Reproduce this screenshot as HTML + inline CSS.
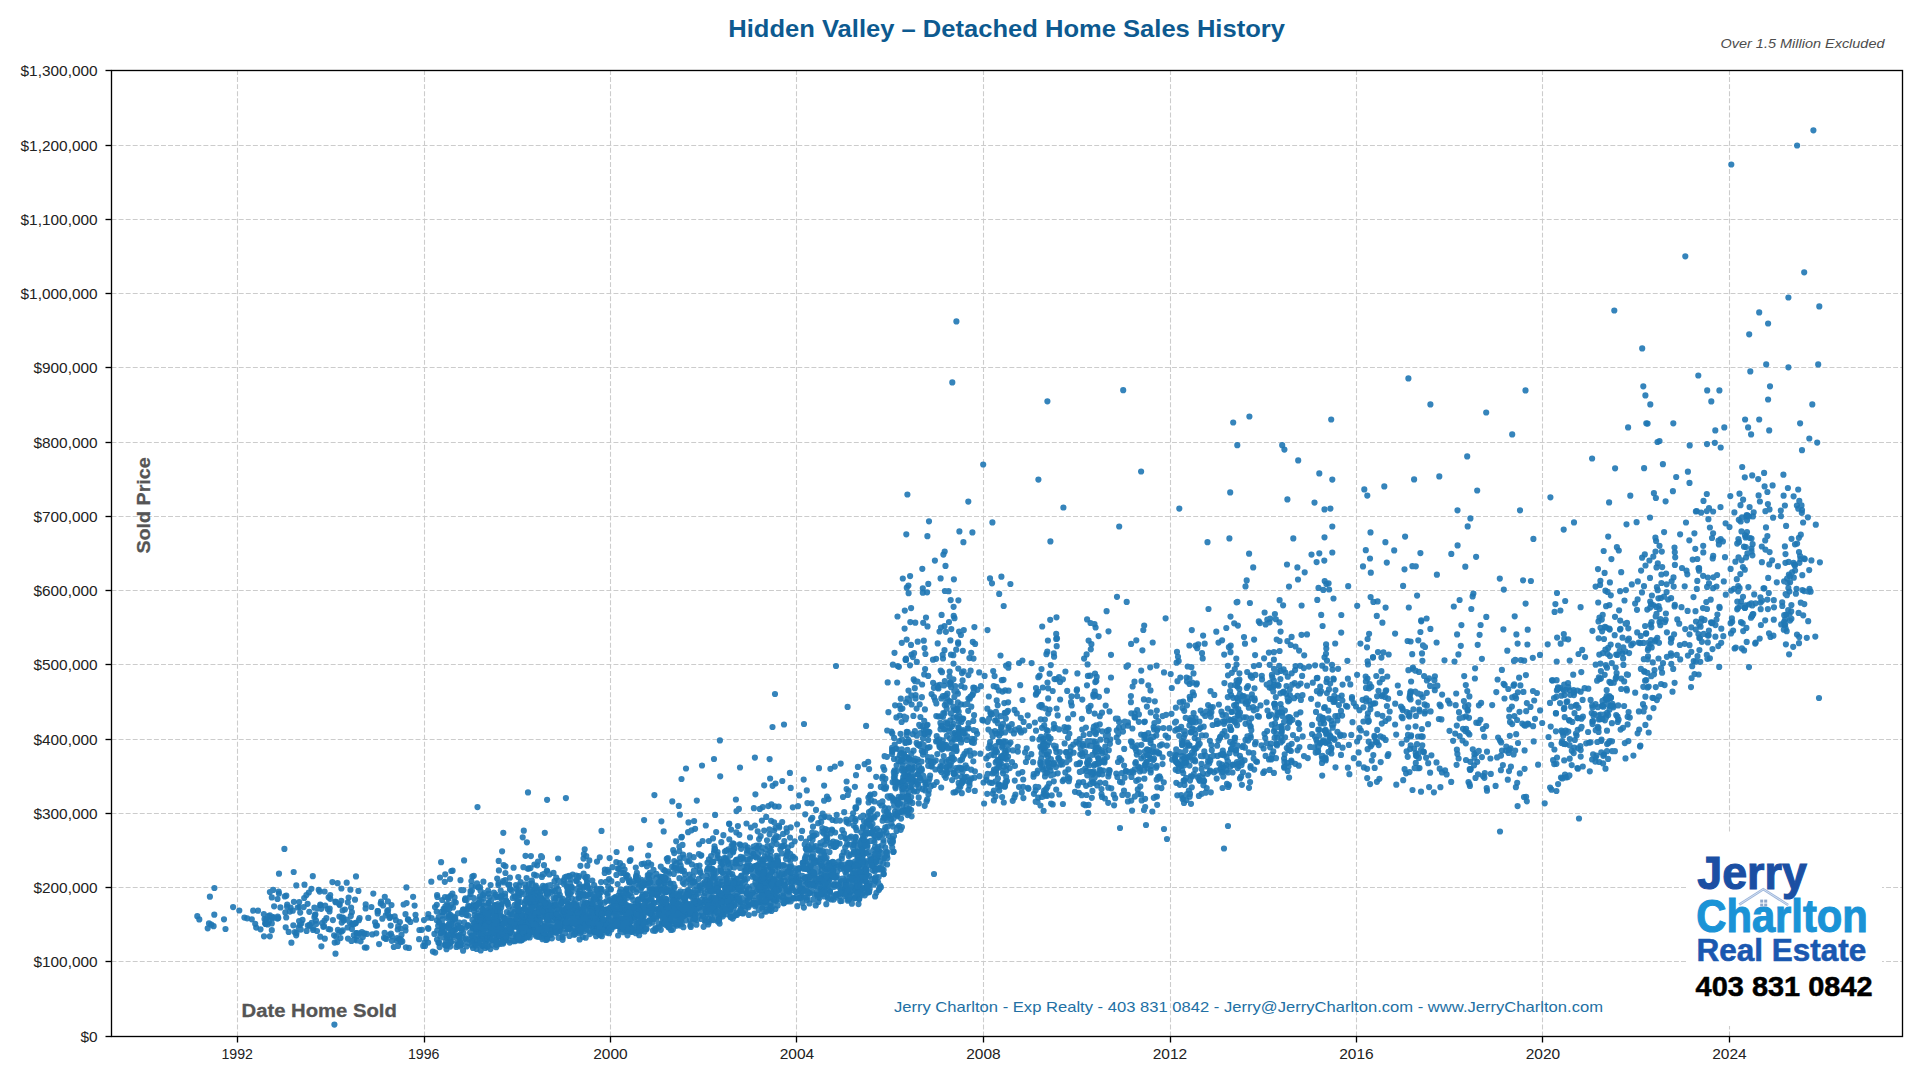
<!DOCTYPE html>
<html><head><meta charset="utf-8"><title>Hidden Valley - Detached Home Sales History</title>
<style>
html,body{margin:0;padding:0;background:#fff;}
body{width:1920px;height:1080px;overflow:hidden;font-family:"Liberation Sans",sans-serif;}
svg{display:block;font-family:"Liberation Sans",sans-serif;}
</style></head><body>
<svg width="1920" height="1080" viewBox="0 0 1920 1080">
<rect width="1920" height="1080" fill="#fff"/>
<g stroke="#cccccc" stroke-width="1.1" stroke-dasharray="4.93 2.14" fill="none">
<path d="M111.5 961.50H1902.5"/>
<path d="M111.5 887.50H1902.5"/>
<path d="M111.5 813.50H1902.5"/>
<path d="M111.5 739.50H1902.5"/>
<path d="M111.5 664.50H1902.5"/>
<path d="M111.5 590.50H1902.5"/>
<path d="M111.5 516.50H1902.5"/>
<path d="M111.5 442.50H1902.5"/>
<path d="M111.5 367.50H1902.5"/>
<path d="M111.5 293.50H1902.5"/>
<path d="M111.5 219.50H1902.5"/>
<path d="M111.5 145.50H1902.5"/>
<path d="M237.50 1036.5V70.5"/>
<path d="M424.50 1036.5V70.5"/>
<path d="M610.50 1036.5V70.5"/>
<path d="M796.50 1036.5V70.5"/>
<path d="M983.50 1036.5V70.5"/>
<path d="M1170.50 1036.5V70.5"/>
<path d="M1356.50 1036.5V70.5"/>
<path d="M1542.50 1036.5V70.5"/>
<path d="M1729.50 1036.5V70.5"/>
</g>
<g stroke="#1f77b4" stroke-width="6.2" stroke-linecap="round" fill="none" stroke-opacity="0.9">
<g>
<path d="M197.3 916.2h0M213.6 926.2h0M239.3 910.5h0M256.2 927.6h0M265.3 923.2h0M268.9 921.7h0M271.8 897.4h0M277.5 918.6h0M278.9 893.6h0M286.2 917.5h0M290.6 907.5h0M294.8 932.2h0M299.1 921.1h0M301.3 923.4h0M306.6 930.9h0M309.7 926.1h0M314.4 917.3h0M317.0 931.0h0M320.4 905.3h0M324.5 920.7h0M328.5 929.0h0M330.3 898.8h0M335.5 901.6h0M339.3 904.0h0M341.4 888.5h0M343.0 917.6h0M347.8 902.3h0M351.1 907.5h0M353.8 935.2h0M356.3 933.1h0M359.4 933.3h0M364.8 947.5h0M371.4 907.0h0M377.0 925.5h0M381.1 901.5h0M385.4 938.3h0M388.1 910.1h0M391.5 905.1h0M396.7 940.7h0M399.9 922.1h0M403.6 904.5h0M406.6 903.1h0M414.6 905.6h0M423.2 945.9h0M428.1 942.6h0M432.9 951.6h0M436.8 904.8h0M438.4 942.8h0M440.2 936.2h0M442.0 929.3h0M442.5 937.4h0M444.1 933.6h0M445.0 897.0h0M445.9 945.6h0M447.1 909.0h0M447.5 938.6h0M448.5 898.8h0M449.5 927.8h0M450.6 895.8h0M451.3 904.9h0M452.4 920.4h0M454.3 901.8h0M455.6 929.6h0M458.0 935.7h0M459.1 928.1h0M460.3 946.4h0M461.6 930.0h0M463.1 950.7h0M464.2 922.3h0M466.0 927.6h0M467.1 908.9h0M468.9 939.4h0M470.5 891.1h0M471.7 885.8h0M472.5 928.2h0M473.7 904.1h0M474.2 922.8h0M475.6 940.3h0M476.2 931.9h0M476.9 943.3h0M477.4 938.3h0M478.1 916.1h0M478.5 941.7h0M479.0 929.1h0M480.1 924.8h0M480.4 929.6h0M480.7 936.9h0M481.1 927.1h0M482.1 945.8h0M483.0 923.1h0M483.5 905.8h0M484.4 911.4h0M484.9 920.8h0M485.1 940.5h0M486.0 916.8h0M486.8 922.3h0M487.5 909.9h0M488.2 914.8h0M488.4 893.7h0M488.8 926.5h0M489.5 926.1h0M490.0 908.1h0M490.6 920.8h0M491.0 900.7h0M491.8 944.8h0M493.2 940.8h0M494.0 914.0h0M494.4 897.5h0M494.8 926.3h0M495.4 940.1h0M495.9 896.7h0M496.2 914.3h0M496.4 929.3h0M497.0 930.0h0M497.6 930.8h0M498.3 910.7h0M498.6 883.1h0M499.2 923.6h0M500.7 890.6h0M501.1 943.8h0M501.4 934.8h0M502.0 895.3h0M502.7 938.5h0M503.2 943.6h0M503.9 940.7h0M504.9 932.4h0M505.2 923.7h0M505.9 939.9h0M506.9 912.2h0M508.2 884.8h0M509.4 884.5h0M509.9 889.5h0M510.4 933.9h0M511.3 935.9h0M512.1 933.3h0M513.4 926.0h0M514.7 896.7h0M515.1 936.5h0M516.3 888.4h0M517.2 917.0h0M517.9 912.3h0M518.1 940.3h0M518.5 915.1h0M519.2 914.2h0M520.0 940.2h0M520.7 902.0h0M521.6 918.8h0M521.7 933.9h0M522.7 936.1h0M523.3 915.6h0M524.1 916.9h0M524.6 936.9h0M525.1 909.2h0M525.5 855.8h0M526.6 878.1h0M527.3 911.6h0M527.8 912.9h0M528.1 919.0h0M528.6 920.0h0M529.0 922.4h0M529.1 931.7h0M529.9 932.9h0M530.2 913.2h0M530.4 903.7h0M531.4 930.2h0M531.8 880.7h0M532.0 899.4h0M532.4 924.5h0M533.4 893.4h0M534.1 927.4h0M534.4 864.5h0M535.0 927.5h0M535.2 932.8h0M536.0 917.8h0M536.1 920.8h0M536.6 927.6h0M537.2 914.0h0M538.0 861.6h0M538.5 919.7h0M539.0 912.5h0M539.5 908.2h0M540.1 923.4h0M540.7 891.6h0M541.4 925.4h0M542.2 898.4h0M542.5 931.6h0M543.7 934.4h0M544.0 926.5h0M544.2 890.5h0M545.0 931.5h0M545.4 915.2h0M546.4 907.9h0M546.6 934.1h0M547.1 799.8h0M547.3 916.4h0M547.8 913.1h0M548.7 910.2h0M549.4 919.3h0M549.7 920.6h0M551.1 906.2h0M551.3 892.6h0M553.1 920.0h0M554.0 916.9h0M554.9 901.7h0M555.5 931.5h0M556.4 908.0h0M557.0 895.3h0M557.4 909.3h0M558.5 937.8h0M559.5 917.7h0M560.6 928.6h0M561.5 910.0h0M562.3 898.7h0M563.0 901.6h0M564.4 910.2h0M565.1 900.7h0M565.9 883.1h0M566.5 876.5h0M567.2 907.3h0M568.1 899.4h0M568.3 909.0h0M568.9 927.9h0M569.5 907.8h0M570.2 883.4h0M571.0 926.1h0M571.6 914.2h0M572.7 874.5h0M573.2 927.1h0M573.7 934.7h0M574.5 905.8h0M575.3 928.8h0M575.8 932.3h0M576.0 911.0h0M576.2 919.1h0M576.8 921.8h0M577.1 926.1h0M577.8 916.2h0M578.5 923.6h0M579.1 898.1h0M579.4 892.6h0M579.9 890.4h0M580.5 922.5h0M581.2 928.1h0M581.8 928.5h0M582.3 909.6h0M583.2 913.7h0M583.5 858.6h0M583.9 906.8h0M584.0 886.7h0M584.3 923.6h0M584.7 924.9h0M585.7 937.7h0M585.8 922.2h0M586.8 880.1h0M587.3 876.9h0M588.3 906.1h0M588.8 904.4h0M589.7 934.1h0M590.6 916.7h0M591.4 932.7h0M591.9 894.8h0M592.3 914.0h0M593.2 929.9h0M594.1 885.0h0M594.5 894.1h0M595.2 926.5h0M595.9 925.5h0M596.4 910.7h0M597.0 912.9h0M597.5 919.3h0M598.3 926.1h0M598.8 912.0h0M599.1 924.7h0M599.6 898.0h0M600.1 927.9h0M600.5 888.6h0M601.3 911.2h0M601.9 908.5h0M602.7 913.6h0M603.8 930.2h0M604.9 869.5h0M606.0 881.9h0M607.3 909.4h0M608.0 927.0h0M608.5 919.5h0M609.2 920.4h0M609.9 912.0h0M611.0 907.1h0M612.0 922.2h0M613.5 922.4h0M614.4 910.1h0M615.1 897.3h0M616.0 919.2h0M616.6 852.0h0M617.3 924.5h0M618.0 918.5h0M618.6 922.6h0M619.8 892.0h0M620.5 905.8h0M621.0 873.1h0M622.0 911.6h0M622.3 902.7h0M622.8 865.9h0M622.9 928.7h0M623.3 911.9h0M624.3 895.7h0M625.1 918.3h0M625.9 908.4h0M626.1 891.9h0M626.8 919.9h0M627.4 877.9h0M627.6 875.9h0M628.6 917.5h0M628.7 922.2h0M629.2 879.1h0M629.7 922.5h0M629.9 923.2h0M630.4 860.0h0M631.1 848.4h0M632.0 910.7h0M632.9 906.3h0M633.8 881.3h0M634.1 906.8h0M635.8 867.6h0M636.4 916.2h0M636.9 872.9h0M637.3 931.3h0M638.1 907.9h0M638.5 912.3h0M639.2 925.2h0M640.1 926.9h0M640.5 911.1h0M641.5 905.9h0M641.8 917.0h0M642.3 913.3h0M643.3 898.8h0M643.7 915.8h0M644.8 904.8h0M645.6 911.5h0M646.9 866.3h0M647.8 875.1h0M648.6 898.1h0M649.4 907.6h0M649.8 872.9h0M650.4 882.4h0M651.2 864.7h0M652.1 912.7h0M652.7 889.3h0M653.5 869.8h0M654.4 795.1h0M655.7 929.1h0M656.6 894.8h0M657.4 910.0h0M658.5 882.3h0M659.0 899.0h0M659.9 914.9h0M660.8 929.8h0M661.0 878.9h0M661.8 913.0h0M662.3 921.7h0M662.9 903.4h0M664.3 877.3h0M664.7 908.0h0M665.2 914.0h0M665.6 878.3h0M666.1 919.9h0M666.7 888.8h0M667.6 908.4h0M668.1 915.7h0M668.4 871.6h0M668.9 921.7h0M669.3 916.5h0M670.6 916.8h0M671.6 908.7h0M672.1 896.1h0M672.8 929.6h0M673.5 927.6h0M673.7 908.4h0M674.2 887.8h0M674.1 868.3h0M674.8 908.4h0M675.6 906.1h0M676.4 915.7h0M676.7 910.1h0M677.2 910.4h0M677.8 870.5h0M678.4 924.1h0M679.1 901.9h0M679.4 846.7h0M679.9 899.1h0M680.0 909.1h0M681.0 913.1h0M681.6 918.3h0M682.5 844.9h0M683.2 912.9h0M683.8 857.8h0M684.7 900.0h0M685.1 898.0h0M686.1 913.7h0M687.3 861.7h0M688.2 891.2h0M689.1 879.3h0M690.1 913.8h0M690.6 892.6h0M690.9 896.6h0M692.2 911.8h0M693.0 876.3h0M693.8 906.1h0M694.2 918.4h0M695.0 915.4h0M695.6 892.3h0M696.4 866.1h0M697.0 920.0h0M698.2 901.5h0M699.2 915.7h0M699.8 885.7h0M701.4 890.4h0M702.3 876.0h0M704.5 904.6h0M705.1 901.5h0M705.8 825.5h0M706.7 875.8h0M707.4 901.0h0M708.2 924.5h0M708.9 859.4h0M709.4 904.0h0M710.4 891.1h0M710.9 898.8h0M711.6 897.9h0M712.2 868.6h0M713.1 861.9h0M713.5 876.9h0M714.0 886.5h0M714.5 846.3h0M715.0 907.4h0M716.0 904.1h0M716.5 902.9h0M717.3 857.8h0M717.6 852.0h0M717.9 881.3h0M718.4 885.5h0M719.2 899.6h0M719.5 884.6h0M720.3 878.6h0M721.2 906.2h0M721.6 907.4h0M722.2 894.7h0M722.7 914.2h0M723.5 895.7h0M724.8 887.9h0M725.7 858.0h0M726.1 900.2h0M726.4 911.2h0M726.9 878.4h0M727.7 896.0h0M728.1 862.5h0M728.8 906.4h0M729.2 824.1h0M730.2 900.7h0M730.7 913.6h0M730.9 896.9h0M731.1 902.6h0M732.0 886.6h0M732.9 904.6h0M733.3 877.1h0M734.3 916.0h0M734.6 905.5h0M735.9 799.5h0M736.4 895.0h0M736.9 893.3h0M737.9 878.6h0M739.0 912.8h0M739.4 891.3h0M740.0 912.8h0M740.6 883.2h0M741.4 876.0h0M742.7 906.3h0M743.6 859.6h0M745.3 910.3h0M745.9 869.9h0M746.9 893.7h0M747.6 847.4h0M748.6 904.7h0M749.6 871.0h0M750.2 895.4h0M752.0 904.4h0M753.3 874.6h0M753.7 846.7h0M754.7 870.1h0M755.2 906.3h0M756.2 845.5h0M756.8 865.6h0M758.0 854.4h0M758.8 890.1h0M759.3 872.6h0M759.8 808.9h0M760.5 879.0h0M761.2 882.7h0M761.5 879.9h0M761.9 896.5h0M762.2 908.2h0M762.6 886.2h0M763.0 887.5h0M763.5 869.1h0M764.2 911.4h0M764.7 882.6h0M765.2 893.2h0M765.5 859.2h0M766.3 896.3h0M766.6 881.1h0M767.2 900.2h0M767.7 869.8h0M768.9 872.3h0M769.3 900.3h0M769.6 834.3h0M770.2 903.7h0M770.6 856.1h0M771.1 820.8h0M771.4 894.7h0M772.0 871.8h0M772.6 901.0h0M773.3 863.2h0M773.6 888.4h0M774.2 884.0h0M774.7 838.3h0M775.4 909.0h0M775.8 900.9h0M776.7 844.1h0M777.0 890.8h0M777.9 862.8h0M778.4 863.7h0M779.1 884.4h0M779.2 889.2h0M781.4 896.3h0M782.3 781.0h0M782.8 895.6h0M783.6 897.8h0M784.3 841.0h0M785.3 899.3h0M786.5 855.0h0M786.8 832.1h0M787.9 890.3h0M788.4 871.0h0M789.8 876.5h0M790.4 866.9h0M790.9 878.0h0M791.6 845.1h0M793.3 898.2h0M795.1 858.6h0M796.1 878.4h0M798.0 806.2h0M799.1 868.2h0M799.5 898.3h0M801.7 891.7h0M802.6 888.5h0M803.3 897.5h0M804.7 844.4h0M805.5 881.4h0M806.0 841.5h0M806.8 790.4h0M807.4 897.4h0M808.7 868.1h0M809.6 849.4h0M810.3 872.8h0M811.2 875.0h0M811.6 890.9h0M812.1 884.6h0M812.3 817.8h0M813.0 826.7h0M813.9 860.4h0M814.6 885.6h0M814.9 883.0h0M815.7 861.1h0M817.3 850.1h0M818.2 823.2h0M819.5 898.1h0M820.4 842.9h0M820.9 882.0h0M821.2 817.5h0M821.7 879.8h0M822.5 842.0h0M823.6 841.1h0M824.2 817.1h0M824.5 896.4h0M825.5 829.1h0M826.3 877.1h0M826.9 872.8h0M827.2 838.3h0M828.4 870.3h0M828.9 879.7h0M830.0 891.7h0M830.6 833.4h0M830.9 846.0h0M832.3 830.5h0M833.0 870.8h0M833.7 866.0h0M834.7 846.9h0M835.4 843.9h0M836.3 897.3h0M837.0 843.3h0M839.0 894.0h0M840.3 901.1h0M840.9 881.3h0M841.6 881.0h0M843.1 884.3h0M844.0 833.5h0M845.1 887.9h0M845.8 880.0h0M846.5 822.1h0M846.9 895.3h0M847.4 898.4h0M847.9 900.7h0M848.7 895.0h0M849.1 864.6h0M849.9 898.2h0M850.7 863.4h0M851.6 890.7h0M852.3 869.1h0M853.2 878.6h0M853.7 845.0h0M854.7 868.6h0M855.1 889.0h0M855.6 865.2h0M855.7 887.5h0M856.4 873.0h0M856.7 882.6h0M857.4 867.6h0M857.6 856.7h0M858.0 889.6h0M858.4 865.8h0M858.6 802.6h0M859.6 879.1h0M860.2 880.4h0M861.0 876.2h0M861.3 832.4h0M862.3 847.5h0M862.7 852.6h0M863.1 838.7h0M863.3 873.0h0M864.3 887.7h0M864.8 842.9h0M865.4 874.9h0M866.0 852.9h0M866.3 870.9h0M866.6 882.1h0M867.4 845.2h0M868.4 797.5h0M868.9 885.4h0M869.2 875.8h0M870.0 855.8h0M870.7 862.1h0M871.1 857.3h0M871.8 832.6h0M872.8 809.0h0M873.8 829.9h0M874.4 793.8h0M875.0 847.2h0M875.3 868.4h0M876.2 776.8h0M877.2 814.3h0M878.1 882.4h0M878.8 890.0h0M879.4 837.2h0M880.0 885.6h0M881.3 805.5h0M882.5 805.5h0M883.5 840.1h0M884.0 788.4h0M884.5 858.0h0M885.4 778.7h0M886.6 811.5h0M887.4 858.1h0M888.4 712.2h0M890.4 815.6h0M892.2 847.7h0M892.3 733.4h0M892.9 835.9h0M893.7 851.6h0M894.0 836.0h0M894.6 770.4h0M895.4 786.8h0M896.4 717.4h0M897.2 682.5h0M897.7 758.7h0M898.4 761.2h0M899.2 741.0h0M900.2 760.6h0M900.9 782.7h0M901.5 797.0h0M902.0 768.5h0M902.5 759.5h0M902.8 578.5h0M903.7 771.0h0M904.6 810.1h0M905.4 785.9h0M906.0 658.7h0M906.2 775.5h0M906.7 735.1h0M907.4 749.9h0M907.8 795.7h0M908.2 781.5h0M908.5 767.3h0M909.2 757.6h0M910.0 665.3h0M911.0 774.1h0M911.3 753.7h0M911.6 816.3h0M912.6 769.2h0M913.4 775.1h0M914.1 791.5h0M915.1 681.2h0M916.6 742.9h0M917.5 681.5h0M918.0 784.2h0M919.1 787.7h0M919.9 777.9h0M921.4 768.7h0M922.1 684.5h0M922.8 588.3h0M923.8 640.7h0M924.4 733.6h0M925.1 752.0h0M925.8 729.6h0M927.3 799.3h0M928.0 757.2h0M928.3 731.5h0M929.6 778.6h0M931.4 757.3h0M933.9 785.0h0M935.8 760.4h0M936.7 736.0h0M938.5 688.4h0M939.6 747.0h0M940.5 766.2h0M941.3 698.4h0M942.0 672.2h0M942.8 744.2h0M943.3 746.9h0M944.5 626.2h0M944.8 705.0h0M945.9 722.4h0M946.7 771.9h0M947.2 723.8h0M948.4 759.9h0M949.5 676.5h0M950.3 720.4h0M951.0 682.2h0M951.8 761.3h0M952.5 748.4h0M953.4 679.3h0M953.5 772.9h0M953.9 579.3h0M954.4 696.9h0M955.5 792.1h0M956.3 735.0h0M957.0 716.5h0M957.9 693.7h0M958.4 727.8h0M959.0 721.7h0M959.5 716.5h0M960.9 635.0h0M961.5 777.1h0M962.3 782.5h0M962.6 680.4h0M963.6 671.3h0M964.6 687.5h0M966.6 776.8h0M968.2 710.8h0M969.4 658.1h0M970.5 696.6h0M971.4 778.4h0M972.9 693.9h0M973.8 691.7h0M974.5 687.8h0M977.1 733.8h0M982.3 719.9h0M986.4 758.4h0M987.6 721.8h0M989.1 718.7h0M990.8 747.3h0M992.0 583.3h0M993.9 772.4h0M994.6 676.1h0M995.6 751.7h0M996.3 773.6h0M996.9 761.0h0M997.8 759.9h0M998.8 690.4h0M999.7 731.5h0M1000.8 716.2h0M1001.4 576.7h0M1002.5 746.1h0M1003.5 679.8h0M1004.7 752.8h0M1005.2 690.4h0M1005.7 712.8h0M1006.5 765.6h0M1008.0 710.8h0M1008.7 726.3h0M1011.8 724.2h0M1014.5 709.9h0M1017.7 746.8h0M1019.9 730.7h0M1022.3 772.1h0M1024.3 730.4h0M1027.9 787.8h0M1033.1 762.2h0M1035.7 786.9h0M1036.9 773.3h0M1038.3 787.1h0M1040.5 764.6h0M1041.5 753.4h0M1042.0 707.3h0M1043.0 738.9h0M1043.7 793.7h0M1044.6 754.6h0M1045.5 708.5h0M1046.4 654.2h0M1047.2 772.6h0M1047.9 640.5h0M1048.5 736.5h0M1049.2 762.9h0M1050.6 738.6h0M1052.7 804.4h0M1053.8 653.3h0M1055.5 727.8h0M1056.2 789.6h0M1057.0 638.4h0M1059.1 729.4h0M1060.2 764.6h0M1063.8 779.6h0M1066.1 752.4h0M1067.8 756.4h0M1069.3 778.4h0M1071.0 702.2h0M1075.0 791.8h0M1077.4 673.4h0M1079.7 739.0h0M1081.9 718.8h0M1082.4 743.7h0M1085.1 752.0h0M1086.5 795.0h0M1087.2 775.3h0M1087.9 675.9h0M1089.2 765.3h0M1090.5 623.0h0M1091.4 644.2h0M1092.4 790.9h0M1093.6 730.7h0M1094.5 624.1h0M1095.0 741.5h0M1095.6 732.5h0M1096.8 755.6h0M1098.0 747.9h0M1099.0 773.6h0M1100.0 782.7h0M1101.5 789.0h0M1102.4 774.3h0M1104.7 759.0h0M1105.8 736.2h0M1107.9 734.7h0M1108.8 750.2h0M1110.3 739.4h0M1115.2 798.2h0M1117.4 777.0h0M1119.1 721.9h0M1122.2 782.5h0M1124.6 777.7h0M1127.8 794.9h0M1130.9 741.3h0M1131.4 741.8h0M1132.4 728.5h0M1134.7 713.3h0M1136.2 780.8h0M1137.8 789.4h0M1139.3 752.3h0M1141.2 670.6h0M1142.4 650.3h0M1144.2 735.2h0M1144.7 764.9h0M1146.1 738.4h0M1147.2 739.0h0M1149.2 755.1h0M1150.6 743.0h0M1151.4 736.9h0M1153.5 736.8h0M1154.6 752.6h0M1156.6 665.7h0M1157.1 730.3h0M1158.7 753.5h0M1161.9 744.4h0M1164.0 672.4h0M1169.3 728.2h0M1174.9 757.0h0M1176.0 761.8h0M1176.4 755.0h0M1177.5 681.2h0M1178.9 729.3h0M1180.3 677.5h0M1182.1 770.0h0M1182.4 708.0h0M1183.4 797.8h0M1184.0 731.6h0M1184.8 731.1h0M1186.1 777.8h0M1187.0 794.0h0M1188.9 745.6h0M1189.7 696.8h0M1190.0 793.9h0M1190.8 720.6h0M1191.8 787.3h0M1192.3 728.5h0M1193.6 713.2h0M1194.7 749.5h0M1195.4 733.8h0M1196.8 683.3h0M1198.5 744.4h0M1199.7 743.8h0M1201.7 793.8h0M1202.7 658.4h0M1203.7 726.7h0M1205.6 792.7h0M1207.6 773.8h0M1209.9 740.8h0M1210.8 792.3h0M1212.6 725.0h0M1216.3 631.7h0M1218.5 723.3h0M1220.4 736.6h0M1222.1 764.5h0M1222.8 750.7h0M1224.0 755.2h0M1224.8 721.2h0M1226.6 736.2h0M1228.0 675.3h0M1228.9 647.2h0M1230.3 766.8h0M1230.8 720.0h0M1231.8 672.8h0M1233.0 743.9h0M1234.6 738.1h0M1235.6 750.4h0M1236.5 664.5h0M1237.1 725.2h0M1237.7 745.7h0M1238.9 681.4h0M1239.8 719.3h0M1241.1 776.7h0M1242.4 696.3h0M1244.6 760.3h0M1245.6 703.6h0M1247.3 704.0h0M1248.3 775.4h0M1249.9 603.0h0M1250.6 766.0h0M1251.9 698.4h0M1253.6 758.5h0M1254.5 688.3h0M1256.0 761.3h0M1259.1 665.0h0M1263.2 773.0h0M1265.2 738.0h0M1267.2 731.1h0M1269.2 716.2h0M1270.1 747.3h0M1271.7 688.6h0M1273.3 691.5h0M1273.9 659.7h0M1274.9 614.0h0M1275.8 619.2h0M1276.7 744.0h0M1277.5 712.3h0M1279.6 600.2h0M1280.6 631.6h0M1281.5 708.3h0M1282.3 715.9h0M1284.1 721.8h0M1284.9 710.6h0M1286.8 718.5h0M1287.7 771.0h0M1288.8 745.5h0M1289.7 750.1h0M1291.3 760.5h0M1292.4 719.8h0M1295.5 646.5h0M1297.5 695.8h0M1299.1 650.6h0M1300.9 700.0h0M1304.0 756.1h0M1307.8 758.1h0M1312.1 724.9h0M1316.0 711.9h0M1317.3 599.9h0M1318.3 746.9h0M1319.4 744.8h0M1321.1 691.3h0M1322.3 758.9h0M1323.3 740.3h0M1324.5 657.3h0M1325.5 757.5h0M1326.2 733.2h0M1326.5 681.9h0M1328.5 751.8h0M1329.3 744.0h0M1331.0 749.5h0M1332.3 552.5h0M1333.5 701.9h0M1334.5 702.0h0M1337.4 720.4h0M1338.9 705.0h0M1341.2 632.6h0M1343.9 735.3h0M1348.2 586.2h0M1351.9 698.7h0M1357.1 674.8h0M1359.5 710.2h0M1363.4 721.5h0M1366.0 687.9h0M1367.5 717.4h0M1368.0 664.4h0M1369.1 700.7h0M1370.7 746.3h0M1373.0 657.6h0M1374.7 767.9h0M1376.9 781.8h0M1378.0 652.1h0M1380.7 762.1h0M1382.5 678.9h0M1385.4 721.0h0M1386.9 706.0h0M1388.7 654.5h0M1396.2 734.6h0M1401.6 716.8h0M1404.5 569.3h0M1406.8 712.0h0M1408.6 715.3h0M1409.9 695.3h0M1410.7 745.3h0M1412.5 790.0h0M1415.2 691.7h0M1415.8 762.9h0M1417.8 693.4h0M1419.0 671.9h0M1420.8 694.4h0M1421.9 729.0h0M1423.0 645.4h0M1425.0 647.0h0M1426.9 680.5h0M1430.1 685.9h0M1434.6 686.3h0M1437.4 685.7h0M1441.4 719.4h0M1448.0 700.6h0M1453.8 606.5h0M1456.8 725.6h0M1458.6 758.5h0M1461.4 625.1h0M1465.0 706.7h0M1466.0 760.0h0M1468.0 732.8h0M1469.5 784.1h0M1470.8 769.0h0M1474.4 754.0h0M1476.3 722.7h0M1478.9 705.3h0M1481.9 757.1h0M1484.8 773.2h0M1490.4 758.5h0M1497.6 679.5h0M1501.2 742.4h0M1503.8 589.6h0M1507.8 779.7h0M1509.3 709.5h0M1512.2 724.1h0M1514.4 716.0h0M1516.1 698.3h0M1517.6 643.6h0M1520.4 685.4h0M1524.2 660.7h0M1525.9 675.1h0M1527.7 629.7h0M1533.0 691.0h0M1536.9 693.0h0M1547.7 644.3h0M1551.5 789.7h0M1554.4 749.5h0M1556.3 696.8h0M1557.0 757.6h0M1560.0 703.1h0M1561.4 695.7h0M1563.3 735.4h0M1564.2 760.4h0M1565.0 774.6h0M1566.5 702.0h0M1568.2 639.3h0M1569.6 745.2h0M1571.7 765.1h0M1573.9 695.1h0M1575.6 705.7h0M1577.4 768.0h0M1578.4 707.8h0M1580.7 756.6h0M1582.8 766.5h0M1588.3 688.7h0M1592.1 759.5h0M1593.0 721.0h0M1595.5 704.2h0M1597.3 742.0h0M1598.5 728.1h0M1599.2 762.0h0M1600.5 627.8h0M1601.1 741.0h0M1602.4 705.6h0M1603.3 755.8h0M1604.4 704.5h0M1605.4 590.7h0M1606.2 627.6h0M1607.0 667.7h0M1607.5 653.8h0M1608.5 742.9h0M1609.5 705.7h0M1610.8 595.3h0M1611.8 663.1h0M1613.4 707.3h0M1615.7 667.6h0M1617.5 716.7h0M1618.8 550.5h0M1620.5 628.8h0M1622.5 653.4h0M1624.2 681.4h0M1625.9 590.1h0M1627.6 724.4h0M1628.6 712.0h0M1633.0 643.5h0M1637.2 632.4h0M1639.2 729.5h0M1641.1 570.6h0M1643.6 711.5h0M1644.6 707.5h0M1645.5 565.5h0M1647.5 687.4h0M1648.7 732.5h0M1650.2 601.5h0M1651.3 676.2h0M1652.8 662.4h0M1654.0 674.3h0M1655.7 616.4h0M1656.5 613.9h0M1658.4 598.3h0M1659.5 545.8h0M1661.1 684.0h0M1662.9 464.2h0M1665.6 501.3h0M1666.9 656.8h0M1671.1 598.2h0M1672.9 491.2h0M1674.6 682.8h0M1676.2 477.0h0M1680.2 659.4h0M1686.0 522.5h0M1689.3 540.3h0M1691.3 627.3h0M1693.7 661.0h0M1695.9 511.4h0M1697.3 580.9h0M1699.1 568.2h0M1700.6 626.7h0M1703.1 575.8h0M1706.3 602.1h0M1707.1 586.9h0M1708.7 635.3h0M1710.7 599.7h0M1712.7 558.4h0M1714.8 442.8h0M1717.4 614.6h0M1719.6 608.0h0M1722.9 541.4h0M1729.5 527.0h0M1731.9 618.3h0M1735.4 561.7h0M1737.9 608.1h0M1739.0 541.9h0M1740.7 521.4h0M1742.0 517.4h0M1743.2 631.1h0M1744.8 569.7h0M1746.1 557.4h0M1747.0 532.1h0M1749.0 667.1h0M1751.4 548.6h0M1752.2 616.0h0M1753.7 512.3h0M1758.6 495.4h0M1760.9 625.0h0M1764.3 588.3h0M1766.0 527.4h0M1768.2 577.9h0M1770.5 637.0h0M1773.8 600.2h0M1781.1 624.4h0M1784.1 581.3h0M1785.2 619.6h0M1785.9 644.3h0M1787.6 582.8h0M1789.1 654.3h0M1791.2 611.4h0M1793.6 496.3h0M1795.1 570.5h0M1798.2 489.5h0M1799.2 636.9h0M1800.8 534.7h0M1802.4 590.0h0M1804.8 559.1h0M1809.5 588.8h0M334.4 1024.6h0M1249.4 416.5h0M1298.2 460.4h0M907.4 494.5h0M1314.5 502.6h0M929.0 521.3h0M963.4 542.2h0M1324.5 537.3h0M1731.3 164.5h0M1759.2 312.4h0M1818.2 364.4h0M1525.5 390.4h0M1645.4 395.4h0M1657.5 442.0h0M1812.3 404.4h0M1800.1 423.3h0M1477.2 490.5h0M1609.1 502.4h0M804.0 724.0h0M1224.0 848.5h0M1819.0 698.0h0"/>
<path d="M199.3 919.4h0M214.3 914.7h0M244.4 917.6h0M258.0 910.7h0M265.6 923.6h0M269.8 936.3h0M272.0 917.7h0M277.5 899.0h0M280.4 907.4h0M286.3 895.7h0M291.4 942.7h0M296.2 935.3h0M299.2 902.0h0M302.5 919.9h0M307.6 903.8h0M311.4 888.8h0M314.4 907.7h0M317.4 908.6h0M321.2 908.8h0M324.6 891.5h0M328.6 897.3h0M332.4 882.1h0M335.5 953.7h0M339.4 916.6h0M341.5 931.6h0M343.7 920.6h0M348.0 938.6h0M351.5 941.0h0M354.4 939.7h0M356.6 933.1h0M359.6 918.2h0M365.6 908.4h0M372.3 934.4h0M377.7 911.2h0M382.3 918.7h0M385.8 915.4h0M389.3 934.9h0M391.8 940.8h0M397.2 938.1h0M400.6 928.5h0M405.5 930.4h0M407.9 919.6h0M415.5 914.8h0M424.0 920.1h0M428.0 917.6h0M434.4 933.9h0M437.0 939.5h0M438.7 917.1h0M440.7 933.0h0M442.1 915.6h0M442.9 929.6h0M444.3 930.4h0M445.2 874.3h0M446.1 941.6h0M447.0 937.1h0M448.1 942.3h0M448.7 914.2h0M449.5 943.4h0M450.8 942.3h0M451.5 925.5h0M452.6 870.7h0M454.3 927.4h0M455.7 921.5h0M458.0 944.3h0M459.3 922.5h0M460.5 880.2h0M461.8 912.2h0M463.4 909.5h0M465.0 900.0h0M466.2 915.1h0M467.9 925.2h0M469.5 906.7h0M471.4 881.0h0M471.9 935.8h0M473.0 948.0h0M473.8 937.5h0M474.3 908.1h0M475.7 930.6h0M476.2 921.6h0M476.9 904.7h0M477.6 926.3h0M478.4 903.3h0M478.6 913.6h0M479.3 924.8h0M480.0 939.0h0M480.5 932.4h0M480.6 931.4h0M481.4 935.0h0M482.0 938.9h0M483.0 895.2h0M483.4 881.7h0M484.6 928.5h0M484.8 935.1h0M485.2 948.0h0M486.1 923.1h0M487.0 918.2h0M487.6 937.5h0M488.2 904.8h0M488.4 914.7h0M488.9 936.1h0M489.6 938.4h0M490.1 933.7h0M490.7 910.7h0M491.2 909.8h0M492.1 920.2h0M493.3 907.4h0M493.9 892.7h0M494.6 905.0h0M494.9 932.8h0M495.4 911.1h0M496.0 921.0h0M496.4 909.1h0M496.6 926.4h0M497.2 878.6h0M497.6 936.5h0M498.4 931.7h0M498.8 921.5h0M499.2 915.8h0M500.8 915.5h0M501.1 928.4h0M501.6 931.1h0M502.1 936.6h0M503.1 933.1h0M503.3 832.8h0M503.8 882.5h0M505.0 934.2h0M505.3 880.2h0M506.1 937.5h0M506.9 929.3h0M508.9 940.4h0M509.4 920.4h0M510.0 933.1h0M510.9 924.7h0M511.4 929.3h0M512.1 922.9h0M513.4 926.0h0M514.6 922.2h0M515.2 926.7h0M516.2 936.3h0M517.3 906.0h0M517.8 893.2h0M518.4 933.9h0M518.5 923.3h0M519.2 915.8h0M520.2 929.2h0M521.0 925.8h0M521.7 892.0h0M521.8 917.7h0M522.9 921.4h0M523.5 937.2h0M524.0 925.5h0M524.6 932.7h0M525.1 921.3h0M525.7 901.1h0M526.9 842.3h0M527.3 898.5h0M527.8 923.8h0M528.3 935.5h0M528.7 868.6h0M528.9 924.6h0M529.3 918.3h0M530.0 902.4h0M530.5 894.9h0M530.8 929.3h0M531.4 914.6h0M531.8 916.4h0M532.0 921.5h0M533.0 913.1h0M533.6 901.7h0M534.1 890.1h0M534.6 904.8h0M534.9 898.7h0M535.3 922.9h0M536.0 899.4h0M536.2 913.4h0M536.7 905.4h0M537.3 930.0h0M538.2 930.5h0M538.5 910.7h0M539.3 919.0h0M539.8 889.6h0M540.1 894.4h0M540.7 896.7h0M541.3 916.5h0M542.3 934.8h0M542.8 913.3h0M543.6 927.3h0M544.0 931.1h0M544.3 916.6h0M545.2 910.6h0M545.4 902.5h0M546.4 928.7h0M546.9 870.5h0M547.1 938.2h0M547.3 895.5h0M548.1 894.5h0M548.8 891.6h0M549.4 929.4h0M550.0 913.9h0M551.0 912.9h0M551.4 928.6h0M553.1 931.4h0M554.2 905.3h0M554.9 918.2h0M555.5 931.1h0M556.3 929.9h0M557.1 898.0h0M558.0 918.4h0M558.5 916.5h0M559.6 897.6h0M560.8 899.9h0M561.9 918.7h0M562.6 934.2h0M563.8 880.2h0M564.6 917.9h0M565.1 933.0h0M565.9 798.1h0M566.6 918.5h0M567.3 886.9h0M568.1 889.0h0M568.4 929.1h0M568.9 876.4h0M569.7 924.9h0M570.2 893.7h0M571.1 919.6h0M571.6 923.0h0M572.7 908.7h0M573.4 909.7h0M574.1 914.9h0M574.7 921.0h0M575.3 931.2h0M575.8 912.9h0M575.9 910.0h0M576.3 880.9h0M576.7 910.9h0M577.2 923.9h0M578.1 908.8h0M578.6 928.7h0M579.0 876.2h0M579.3 933.0h0M579.9 893.9h0M580.5 932.4h0M581.3 917.7h0M582.0 922.9h0M582.6 910.9h0M583.3 887.8h0M583.5 893.3h0M583.9 854.1h0M584.0 926.2h0M584.3 922.3h0M584.8 904.7h0M585.6 914.1h0M586.0 924.4h0M586.8 885.3h0M587.5 886.6h0M588.4 925.0h0M588.9 915.7h0M590.0 906.0h0M590.7 901.2h0M591.7 925.1h0M592.1 921.8h0M592.4 907.6h0M593.1 927.6h0M594.2 918.7h0M594.6 931.0h0M595.5 924.9h0M596.0 911.0h0M596.6 888.7h0M597.0 861.6h0M597.5 916.3h0M598.4 931.8h0M598.9 909.0h0M599.2 922.1h0M599.6 934.2h0M600.2 931.3h0M600.6 916.7h0M601.3 914.4h0M601.9 936.2h0M602.9 923.7h0M604.2 912.5h0M605.4 909.6h0M606.3 928.1h0M607.2 929.2h0M608.2 911.8h0M608.6 871.8h0M609.4 900.1h0M609.8 910.8h0M611.4 881.2h0M612.3 927.0h0M613.6 912.2h0M614.6 919.5h0M615.2 910.3h0M616.1 901.3h0M616.7 910.1h0M617.6 884.0h0M618.1 935.5h0M618.9 899.4h0M620.0 863.2h0M620.6 918.9h0M621.1 929.2h0M621.9 921.4h0M622.5 899.7h0M622.7 926.4h0M623.0 910.5h0M623.3 901.0h0M624.6 929.2h0M625.2 928.7h0M625.9 920.0h0M626.1 920.8h0M627.0 907.4h0M627.4 906.5h0M627.7 924.1h0M628.6 921.3h0M628.7 927.3h0M629.2 892.8h0M629.8 882.1h0M630.0 893.3h0M630.6 888.3h0M631.5 927.5h0M632.1 932.0h0M633.1 899.9h0M633.9 916.3h0M634.3 929.4h0M635.9 911.4h0M636.4 889.2h0M637.0 907.3h0M637.3 916.7h0M638.1 903.7h0M638.5 888.3h0M639.3 885.8h0M640.2 908.2h0M640.6 890.3h0M641.5 930.2h0M641.9 917.2h0M642.6 896.7h0M643.2 924.9h0M644.1 820.1h0M644.8 883.5h0M646.0 893.6h0M647.0 900.7h0M647.9 911.6h0M648.8 910.9h0M649.4 912.0h0M649.8 920.0h0M650.5 913.2h0M651.4 913.9h0M652.2 918.0h0M653.0 930.6h0M653.7 909.1h0M654.4 930.1h0M656.1 892.6h0M656.9 895.0h0M657.5 895.0h0M658.5 892.2h0M659.3 909.5h0M660.1 876.6h0M660.8 866.7h0M661.4 876.8h0M661.8 890.5h0M662.4 899.4h0M663.2 869.6h0M664.2 883.0h0M665.0 907.1h0M665.3 920.6h0M665.6 902.9h0M666.3 899.2h0M666.6 891.8h0M667.8 861.2h0M668.3 880.0h0M668.7 912.3h0M668.9 914.3h0M669.4 906.3h0M670.9 889.8h0M671.8 891.5h0M672.3 801.4h0M672.9 901.4h0M673.4 902.7h0M673.8 873.9h0M674.2 903.5h0M674.5 900.2h0M675.1 906.8h0M675.6 893.1h0M676.4 923.6h0M677.0 908.4h0M677.3 914.4h0M677.8 909.8h0M678.8 805.9h0M679.2 912.8h0M679.4 893.3h0M679.9 914.0h0M680.4 925.6h0M681.4 912.9h0M681.8 836.8h0M682.7 894.8h0M683.4 927.2h0M683.9 898.0h0M684.6 891.9h0M685.3 900.4h0M686.1 920.5h0M687.4 913.9h0M688.3 893.5h0M689.5 911.1h0M690.2 912.2h0M690.6 892.2h0M691.0 923.8h0M692.4 882.6h0M692.9 920.4h0M693.9 870.7h0M694.3 913.5h0M695.0 917.2h0M695.6 871.7h0M696.4 924.7h0M697.2 908.4h0M698.6 903.7h0M699.5 887.1h0M700.2 906.1h0M701.3 855.3h0M702.2 884.0h0M704.4 901.9h0M705.2 919.2h0M705.8 883.1h0M706.8 880.2h0M707.4 907.6h0M708.2 912.6h0M708.9 922.1h0M709.4 867.0h0M710.3 884.0h0M711.1 856.0h0M711.7 899.9h0M712.3 905.6h0M713.1 910.7h0M713.6 900.4h0M714.1 900.5h0M714.7 849.1h0M715.1 814.9h0M716.0 901.8h0M716.8 891.6h0M717.2 911.3h0M717.7 913.6h0M718.1 890.4h0M718.5 900.4h0M719.1 896.0h0M719.7 912.8h0M720.5 867.0h0M721.2 871.1h0M721.7 894.5h0M722.3 861.6h0M722.9 916.3h0M723.7 873.5h0M724.9 901.5h0M725.8 876.1h0M726.2 890.4h0M726.5 895.6h0M727.0 885.6h0M727.7 860.2h0M728.2 863.8h0M729.0 888.6h0M729.4 893.5h0M730.2 855.3h0M730.6 850.8h0M730.9 907.2h0M731.7 891.4h0M732.0 897.9h0M733.0 845.5h0M733.4 867.0h0M734.2 867.5h0M734.8 881.3h0M736.1 887.2h0M736.5 811.1h0M737.2 865.8h0M737.9 826.1h0M738.9 808.9h0M739.6 889.9h0M740.1 867.9h0M740.6 910.2h0M741.5 891.5h0M742.7 913.1h0M744.2 866.5h0M745.3 845.4h0M746.2 873.0h0M746.9 853.1h0M747.6 898.6h0M748.6 905.6h0M749.6 896.7h0M751.0 869.3h0M752.5 886.0h0M753.4 903.3h0M753.9 808.2h0M754.7 885.4h0M755.3 878.0h0M756.4 891.1h0M757.7 831.3h0M758.0 879.9h0M759.0 845.3h0M759.4 884.3h0M759.9 859.3h0M760.7 836.0h0M761.3 902.0h0M761.5 875.8h0M761.9 820.6h0M762.2 879.6h0M762.6 885.4h0M763.0 890.1h0M763.9 873.6h0M764.2 785.3h0M764.7 878.4h0M765.3 892.7h0M765.5 902.3h0M766.3 875.9h0M766.6 889.3h0M767.3 886.4h0M767.9 884.9h0M769.0 893.8h0M769.4 829.3h0M769.8 881.3h0M770.1 778.5h0M770.6 859.4h0M771.0 885.1h0M771.4 911.0h0M772.5 871.1h0M772.9 898.1h0M773.5 900.1h0M773.9 900.2h0M774.2 830.5h0M774.7 887.7h0M775.4 896.7h0M776.2 863.3h0M776.9 884.1h0M777.1 888.5h0M778.2 890.4h0M778.5 837.0h0M779.0 873.1h0M780.1 875.9h0M781.4 865.9h0M782.4 881.5h0M782.9 865.2h0M783.8 865.0h0M784.4 873.8h0M785.4 880.3h0M786.5 900.7h0M786.9 896.9h0M787.9 847.6h0M788.7 891.6h0M789.7 896.2h0M790.7 827.4h0M791.1 882.9h0M791.7 887.5h0M794.0 890.4h0M795.6 880.7h0M796.4 876.1h0M798.0 878.1h0M799.2 882.1h0M800.0 890.4h0M802.0 892.3h0M802.7 886.2h0M803.7 868.6h0M804.8 885.1h0M805.6 861.4h0M806.2 891.8h0M806.8 887.8h0M807.4 803.1h0M808.7 893.0h0M809.6 870.6h0M810.3 864.1h0M811.1 865.0h0M811.8 859.8h0M812.0 884.1h0M812.2 857.3h0M813.2 899.7h0M813.8 872.3h0M814.5 894.6h0M815.4 880.2h0M815.8 846.1h0M817.2 861.8h0M818.3 902.1h0M819.8 883.4h0M820.4 886.3h0M820.9 893.8h0M821.6 877.3h0M822.0 865.0h0M822.6 859.5h0M823.8 833.4h0M824.2 891.1h0M824.9 868.7h0M825.8 880.6h0M826.3 904.2h0M826.8 840.7h0M827.6 868.6h0M828.3 865.1h0M829.0 897.7h0M830.0 892.6h0M830.7 865.8h0M831.2 899.5h0M832.5 820.0h0M833.2 870.4h0M833.9 885.2h0M834.8 766.6h0M835.4 885.2h0M836.2 894.0h0M837.3 871.5h0M839.6 884.2h0M840.6 892.0h0M840.9 836.8h0M841.8 890.4h0M843.0 797.0h0M844.2 812.2h0M845.2 847.4h0M846.0 882.2h0M846.6 870.1h0M846.9 852.7h0M847.5 893.0h0M848.3 899.5h0M848.8 855.9h0M849.2 844.6h0M850.1 876.9h0M851.1 819.1h0M851.7 880.2h0M852.5 817.6h0M853.2 844.5h0M853.9 852.1h0M855.0 897.9h0M855.5 837.3h0M855.6 878.7h0M855.9 863.3h0M856.3 881.9h0M856.9 851.7h0M857.5 895.4h0M857.6 885.2h0M858.0 878.7h0M858.4 873.5h0M858.8 865.6h0M859.5 885.3h0M860.1 878.8h0M860.9 817.2h0M861.3 854.1h0M862.3 879.9h0M862.8 827.7h0M863.1 815.5h0M863.6 840.8h0M864.4 853.8h0M864.7 880.6h0M865.6 881.5h0M866.2 869.8h0M866.4 863.4h0M866.7 841.6h0M867.5 892.6h0M868.6 852.1h0M869.1 820.3h0M869.5 865.3h0M870.2 819.4h0M870.7 826.3h0M871.1 810.9h0M871.9 879.1h0M873.4 850.2h0M873.9 862.4h0M874.4 801.5h0M875.0 868.6h0M875.5 881.1h0M876.4 892.8h0M877.3 860.1h0M878.2 834.8h0M878.8 860.7h0M879.5 867.8h0M880.1 861.8h0M881.7 845.5h0M882.6 820.7h0M883.5 842.7h0M884.1 830.3h0M884.6 756.2h0M885.6 817.8h0M886.9 756.8h0M887.4 826.8h0M888.5 835.8h0M890.6 796.1h0M892.1 747.9h0M892.5 839.1h0M892.9 664.7h0M893.8 799.4h0M894.0 759.0h0M894.7 744.7h0M895.5 814.2h0M896.5 831.0h0M897.3 827.6h0M897.9 782.6h0M898.4 803.2h0M899.4 812.6h0M900.5 761.7h0M901.1 753.2h0M901.8 759.5h0M902.1 788.9h0M902.5 804.3h0M902.9 809.1h0M903.7 780.8h0M904.6 628.6h0M905.5 779.2h0M906.0 757.1h0M906.2 796.8h0M906.7 639.6h0M907.4 698.7h0M907.8 773.8h0M908.3 739.8h0M908.6 792.5h0M909.3 700.3h0M909.9 801.4h0M911.0 644.9h0M911.5 654.5h0M911.9 790.0h0M912.8 734.2h0M913.6 750.7h0M914.4 767.3h0M915.2 781.1h0M916.8 661.9h0M917.7 761.9h0M918.1 774.5h0M919.2 724.8h0M920.2 726.2h0M921.5 761.5h0M922.3 568.8h0M923.0 738.2h0M923.8 730.4h0M924.5 648.1h0M925.1 790.5h0M926.0 617.5h0M927.5 724.8h0M928.2 740.0h0M928.4 794.2h0M930.1 775.5h0M931.6 694.1h0M933.9 687.8h0M936.1 741.4h0M937.1 685.5h0M938.6 716.6h0M939.7 744.8h0M940.6 578.4h0M941.4 725.9h0M942.1 766.5h0M943.0 716.8h0M943.7 756.0h0M944.5 713.6h0M944.9 591.0h0M945.9 631.8h0M946.7 766.7h0M947.3 773.3h0M948.6 591.2h0M949.6 701.0h0M950.2 682.5h0M951.0 654.7h0M951.8 754.5h0M952.7 758.7h0M953.4 717.5h0M953.5 792.5h0M954.2 759.3h0M954.9 732.8h0M955.5 748.1h0M956.5 751.0h0M957.1 718.0h0M958.1 642.4h0M958.4 600.3h0M959.1 631.6h0M959.6 733.9h0M961.1 685.9h0M961.6 768.9h0M962.2 731.4h0M962.8 650.8h0M963.8 630.1h0M964.7 733.1h0M966.9 767.9h0M968.4 675.1h0M969.5 785.6h0M970.6 670.7h0M971.8 741.5h0M973.3 687.7h0M973.9 742.8h0M974.5 777.7h0M977.4 689.8h0M983.2 720.6h0M986.5 780.1h0M988.5 748.1h0M989.7 745.3h0M990.7 713.9h0M992.4 773.4h0M993.9 790.6h0M994.7 771.4h0M995.7 762.4h0M996.4 733.7h0M997.0 752.0h0M998.2 787.3h0M999.0 741.7h0M999.7 762.1h0M1000.9 757.5h0M1001.6 727.2h0M1002.8 755.5h0M1003.6 741.3h0M1004.7 786.7h0M1005.4 744.7h0M1005.9 753.8h0M1006.7 759.3h0M1008.1 702.3h0M1008.9 744.4h0M1012.0 762.2h0M1014.8 780.6h0M1017.8 751.6h0M1020.2 685.2h0M1022.5 700.0h0M1025.1 752.4h0M1028.5 788.8h0M1033.5 776.7h0M1035.7 801.7h0M1037.6 802.1h0M1039.3 739.5h0M1040.5 805.5h0M1041.5 669.1h0M1042.2 626.5h0M1043.1 741.2h0M1044.0 750.7h0M1044.9 719.6h0M1045.8 795.5h0M1046.6 730.1h0M1047.3 651.7h0M1048.0 756.3h0M1048.9 751.9h0M1049.6 673.7h0M1050.8 665.1h0M1052.7 691.0h0M1054.0 762.9h0M1055.6 748.5h0M1056.4 679.1h0M1057.7 715.4h0M1059.3 794.5h0M1061.7 761.6h0M1064.5 727.1h0M1066.2 752.0h0M1068.0 737.8h0M1069.4 733.8h0M1071.5 696.4h0M1076.3 741.9h0M1077.8 785.5h0M1079.8 771.9h0M1082.2 770.9h0M1083.0 745.7h0M1085.3 768.7h0M1086.6 654.4h0M1087.1 762.7h0M1088.1 812.8h0M1089.5 760.0h0M1090.5 771.8h0M1091.8 797.8h0M1092.7 782.3h0M1093.6 772.9h0M1094.7 691.4h0M1095.3 682.1h0M1095.7 747.7h0M1096.7 676.9h0M1098.4 758.8h0M1098.9 696.8h0M1100.1 749.5h0M1101.6 750.8h0M1103.3 770.5h0M1104.9 798.5h0M1106.6 611.2h0M1108.3 787.7h0M1108.9 773.6h0M1111.0 654.8h0M1115.9 718.7h0M1117.6 718.7h0M1119.6 758.2h0M1123.0 731.6h0M1124.8 721.5h0M1127.9 722.4h0M1130.9 696.1h0M1131.4 776.9h0M1132.6 686.5h0M1134.8 796.6h0M1136.2 750.8h0M1137.9 794.1h0M1139.9 767.9h0M1141.4 744.8h0M1143.3 630.0h0M1144.2 625.5h0M1144.8 721.5h0M1146.4 762.0h0M1147.4 768.3h0M1149.2 750.2h0M1150.7 712.4h0M1152.3 811.5h0M1153.6 727.1h0M1154.8 701.3h0M1156.7 779.7h0M1157.2 804.8h0M1159.2 753.1h0M1162.5 764.1h0M1165.6 735.5h0M1169.8 753.8h0M1175.0 722.6h0M1176.0 721.6h0M1176.6 662.7h0M1177.4 763.0h0M1179.2 735.8h0M1181.2 726.8h0M1182.1 744.4h0M1182.5 799.0h0M1183.6 780.7h0M1184.2 710.8h0M1184.9 734.6h0M1186.5 800.0h0M1187.0 705.3h0M1188.9 790.6h0M1189.6 745.4h0M1190.0 780.6h0M1190.9 776.1h0M1191.8 630.1h0M1192.8 692.4h0M1193.8 774.1h0M1194.7 738.0h0M1195.6 718.1h0M1197.2 648.2h0M1198.9 795.9h0M1199.7 780.8h0M1201.6 768.9h0M1202.9 773.6h0M1204.1 780.9h0M1205.9 735.4h0M1208.1 761.7h0M1209.9 771.6h0M1210.8 716.7h0M1212.8 707.1h0M1216.7 778.6h0M1218.5 740.6h0M1220.4 769.1h0M1222.1 640.3h0M1223.0 767.5h0M1224.0 723.8h0M1225.9 715.0h0M1227.0 783.9h0M1228.1 720.5h0M1229.1 719.3h0M1230.5 729.4h0M1231.1 695.1h0M1232.2 711.5h0M1233.5 764.7h0M1234.6 741.0h0M1235.8 709.1h0M1236.6 711.8h0M1237.3 686.5h0M1237.9 625.6h0M1239.1 765.9h0M1239.9 755.8h0M1241.5 765.0h0M1243.0 772.3h0M1245.0 643.7h0M1246.1 717.4h0M1247.4 697.3h0M1248.8 752.4h0M1250.1 782.0h0M1250.8 675.4h0M1251.9 694.3h0M1253.7 710.3h0M1254.7 700.3h0M1256.5 709.2h0M1259.9 623.1h0M1263.6 748.5h0M1265.6 755.9h0M1267.3 619.5h0M1269.5 687.5h0M1270.2 618.6h0M1271.8 724.7h0M1273.5 686.7h0M1273.9 731.3h0M1274.8 704.1h0M1276.0 758.2h0M1276.7 639.5h0M1277.5 684.6h0M1279.6 641.0h0M1280.6 704.0h0M1281.6 731.7h0M1282.5 740.8h0M1284.2 766.8h0M1285.1 737.3h0M1287.0 564.5h0M1287.8 676.7h0M1289.0 586.6h0M1289.8 721.3h0M1291.6 762.0h0M1293.0 735.1h0M1295.6 666.0h0M1298.0 579.5h0M1299.3 729.0h0M1301.5 634.8h0M1303.9 668.1h0M1309.0 666.6h0M1312.8 682.7h0M1316.3 739.7h0M1317.4 677.9h0M1318.5 587.9h0M1319.9 693.4h0M1321.2 614.9h0M1322.5 718.1h0M1323.2 720.0h0M1324.7 581.1h0M1325.5 758.9h0M1326.1 644.4h0M1326.9 693.1h0M1328.6 583.3h0M1329.8 698.9h0M1331.4 753.5h0M1332.5 669.6h0M1333.4 678.6h0M1334.6 739.8h0M1337.4 731.8h0M1340.2 735.9h0M1341.7 695.6h0M1346.0 705.8h0M1348.9 744.9h0M1352.5 722.2h0M1357.2 605.8h0M1360.4 643.6h0M1363.9 767.4h0M1366.2 698.4h0M1367.5 678.5h0M1368.2 721.8h0M1369.7 684.1h0M1370.8 572.7h0M1373.0 657.1h0M1374.7 737.2h0M1377.1 742.2h0M1378.5 690.8h0M1381.4 671.2h0M1382.4 715.8h0M1385.6 607.6h0M1387.3 676.5h0M1389.7 711.5h0M1396.3 784.7h0M1402.4 708.3h0M1404.6 769.2h0M1407.6 641.0h0M1408.8 607.5h0M1410.1 748.9h0M1410.8 736.5h0M1412.9 667.7h0M1415.6 726.3h0M1416.0 755.5h0M1418.0 736.5h0M1419.3 709.5h0M1421.0 791.7h0M1422.0 653.4h0M1423.3 751.7h0M1425.3 711.5h0M1428.1 724.2h0M1430.4 628.9h0M1434.8 690.2h0M1438.9 719.0h0M1442.0 772.4h0M1449.5 730.8h0M1454.5 661.6h0M1456.9 749.7h0M1459.0 712.2h0M1462.5 740.5h0M1465.3 566.7h0M1466.0 716.3h0M1468.3 705.2h0M1469.7 769.0h0M1471.3 609.0h0M1474.4 757.7h0M1476.4 752.9h0M1478.8 750.9h0M1481.9 658.8h0M1486.2 726.1h0M1490.8 773.9h0M1498.1 737.5h0M1501.9 669.9h0M1504.5 698.5h0M1508.3 689.0h0M1509.8 735.8h0M1512.2 697.3h0M1514.7 616.3h0M1516.2 734.2h0M1517.9 692.3h0M1520.9 660.1h0M1524.2 725.0h0M1526.2 711.2h0M1527.7 723.5h0M1533.1 726.2h0M1538.1 764.7h0M1548.5 737.0h0M1552.0 680.3h0M1554.6 611.9h0M1556.4 791.0h0M1557.0 593.0h0M1560.1 687.9h0M1561.6 743.0h0M1563.8 634.1h0M1564.3 638.7h0M1565.2 601.0h0M1566.6 732.7h0M1568.3 731.5h0M1569.6 690.3h0M1571.8 750.7h0M1574.0 522.4h0M1576.0 733.6h0M1577.7 729.9h0M1580.4 746.0h0M1581.3 672.1h0M1582.9 716.7h0M1589.1 742.6h0M1592.2 705.3h0M1593.1 754.3h0M1595.6 757.5h0M1597.8 707.2h0M1598.7 638.3h0M1599.3 654.6h0M1600.4 580.8h0M1601.3 752.4h0M1602.5 700.9h0M1603.4 706.7h0M1604.5 699.7h0M1605.4 649.5h0M1606.1 606.2h0M1607.1 744.1h0M1607.8 699.1h0M1609.3 628.7h0M1609.7 741.1h0M1610.7 705.7h0M1611.9 723.2h0M1613.8 682.7h0M1616.2 715.1h0M1617.5 654.9h0M1619.1 610.3h0M1620.6 729.6h0M1623.1 658.4h0M1624.5 600.5h0M1626.5 524.3h0M1627.6 716.8h0M1628.9 638.7h0M1633.4 755.6h0M1637.6 599.4h0M1640.0 746.6h0M1642.0 592.4h0M1643.8 659.2h0M1644.8 554.4h0M1646.0 633.6h0M1647.6 659.3h0M1648.7 686.6h0M1650.2 607.6h0M1651.4 627.3h0M1653.2 605.0h0M1654.5 670.1h0M1655.8 687.1h0M1656.9 700.1h0M1658.5 658.5h0M1659.5 609.1h0M1661.4 583.0h0M1663.0 663.2h0M1665.7 619.8h0M1666.9 632.3h0M1671.3 663.9h0M1673.2 668.9h0M1674.6 606.4h0M1676.8 654.9h0M1681.5 607.2h0M1686.5 570.7h0M1689.5 645.2h0M1691.3 651.8h0M1694.4 533.3h0M1695.9 661.6h0M1697.5 656.2h0M1699.2 624.7h0M1700.9 621.7h0M1703.2 545.8h0M1706.8 654.9h0M1707.4 658.8h0M1708.9 630.6h0M1711.0 622.4h0M1713.1 588.2h0M1715.4 636.7h0M1718.3 646.1h0M1720.5 507.2h0M1723.3 636.2h0M1730.3 496.1h0M1732.2 621.8h0M1735.8 647.5h0M1738.2 591.3h0M1739.6 588.2h0M1741.0 622.2h0M1742.2 467.0h0M1744.0 546.7h0M1744.9 608.0h0M1746.4 627.9h0M1747.0 520.3h0M1749.0 604.5h0M1751.5 538.6h0M1752.4 555.3h0M1754.2 594.4h0M1759.7 638.6h0M1761.8 546.5h0M1764.6 486.4h0M1767.4 599.6h0M1768.8 593.0h0M1772.1 560.3h0M1774.0 607.3h0M1782.2 602.3h0M1784.1 621.8h0M1785.2 624.3h0M1786.2 614.6h0M1787.9 488.0h0M1789.4 591.6h0M1791.4 605.1h0M1793.5 562.9h0M1795.9 593.7h0M1798.3 508.7h0M1799.3 500.9h0M1801.5 505.4h0M1803.1 522.5h0M1806.8 637.8h0M1810.6 591.7h0M934.0 874.0h0M1233.2 422.5h0M1319.3 473.4h0M968.3 501.6h0M1324.5 509.4h0M992.4 522.4h0M1119.2 526.5h0M1293.3 538.4h0M1685.3 256.3h0M1768.1 323.5h0M1750.3 371.4h0M1707.2 390.4h0M1650.3 404.4h0M1659.5 441.0h0M1745.1 419.5h0M1809.3 438.5h0M1457.5 510.3h0M1630.3 495.7h0M714.0 759.0h0M1228.0 826.0h0M1120.0 828.0h0"/>
<path d="M207.7 928.3h0M214.4 888.0h0M247.2 918.3h0M260.5 929.3h0M265.6 924.0h0M269.9 915.3h0M272.6 916.8h0M277.7 916.5h0M284.4 848.9h0M287.1 906.8h0M292.8 910.7h0M296.3 885.4h0M299.6 907.1h0M303.7 907.1h0M307.8 925.5h0M311.7 922.9h0M314.9 915.2h0M318.7 889.8h0M321.4 946.3h0M324.8 938.7h0M329.5 911.5h0M332.9 920.1h0M336.0 936.6h0M339.4 932.2h0M341.7 917.6h0M344.9 909.5h0M348.6 897.5h0M351.9 912.2h0M355.0 899.7h0M356.9 940.4h0M360.6 941.3h0M365.7 904.4h0M373.3 893.6h0M377.7 913.4h0M383.1 905.4h0M386.1 939.0h0M389.7 917.9h0M391.9 936.4h0M397.7 929.5h0M400.8 942.1h0M405.4 927.0h0M408.2 919.3h0M416.0 919.7h0M424.6 942.5h0M428.3 914.0h0M435.0 907.0h0M437.1 895.0h0M439.0 922.5h0M441.1 862.2h0M442.2 900.0h0M443.0 925.9h0M444.4 926.1h0M445.3 906.4h0M446.5 935.9h0M447.0 904.0h0M448.1 897.4h0M448.8 936.7h0M450.0 937.9h0M451.1 932.2h0M452.3 933.7h0M453.0 907.4h0M454.4 930.6h0M455.8 902.5h0M457.9 925.4h0M459.4 937.6h0M460.7 927.9h0M462.1 914.1h0M463.4 933.1h0M465.5 910.8h0M466.3 913.4h0M468.2 915.6h0M469.6 909.2h0M471.6 935.7h0M471.9 890.6h0M473.0 927.5h0M473.8 875.8h0M474.4 943.8h0M475.7 886.0h0M476.3 916.8h0M477.0 883.4h0M477.8 928.4h0M478.3 886.8h0M478.8 933.7h0M479.4 937.8h0M480.1 924.4h0M480.5 919.7h0M480.7 904.1h0M481.7 901.7h0M482.2 904.3h0M482.9 923.8h0M483.6 913.9h0M484.6 893.2h0M485.0 922.9h0M485.4 914.3h0M486.2 935.0h0M487.1 928.5h0M487.8 937.5h0M488.1 890.6h0M488.4 923.7h0M489.0 941.5h0M489.6 922.9h0M490.4 923.6h0M490.8 933.7h0M491.2 940.0h0M492.0 933.9h0M493.3 921.3h0M494.1 913.7h0M494.7 922.2h0M495.1 931.2h0M495.4 923.6h0M496.1 940.4h0M496.3 915.7h0M496.7 919.4h0M497.3 897.1h0M497.7 908.5h0M498.4 923.4h0M498.9 933.2h0M499.6 932.4h0M500.9 927.5h0M501.0 898.2h0M501.7 904.7h0M502.1 851.3h0M503.0 881.1h0M503.3 900.8h0M504.0 917.6h0M505.1 937.3h0M505.4 873.0h0M506.1 936.2h0M507.6 918.8h0M508.9 884.8h0M509.7 932.7h0M510.1 921.8h0M511.1 921.6h0M511.5 914.7h0M512.6 919.0h0M513.5 926.6h0M514.6 911.8h0M515.2 911.8h0M516.5 916.5h0M517.3 904.2h0M517.9 907.6h0M518.3 877.0h0M518.6 895.3h0M519.2 909.3h0M520.4 923.9h0M521.1 930.8h0M521.6 927.9h0M522.0 940.1h0M523.2 919.1h0M523.6 932.1h0M524.1 934.3h0M524.7 932.4h0M525.3 923.5h0M525.9 887.7h0M526.9 934.5h0M527.4 902.6h0M527.9 910.9h0M528.3 914.3h0M528.7 935.2h0M529.0 922.9h0M529.4 925.0h0M529.9 926.6h0M530.5 906.3h0M530.7 904.8h0M531.5 915.3h0M531.8 885.3h0M532.2 883.7h0M533.0 916.9h0M533.6 923.2h0M534.1 874.7h0M534.7 905.4h0M534.9 916.8h0M535.3 887.0h0M535.9 913.2h0M536.2 900.2h0M536.7 891.6h0M537.2 865.3h0M538.1 935.9h0M538.9 927.4h0M539.4 912.4h0M539.7 904.9h0M540.0 933.2h0M541.1 856.2h0M542.0 857.2h0M542.2 930.7h0M542.9 936.1h0M543.8 911.3h0M544.0 865.2h0M544.4 934.7h0M545.1 906.0h0M545.7 904.7h0M546.5 893.7h0M546.9 919.8h0M547.0 900.3h0M547.4 871.7h0M548.1 919.7h0M548.9 909.7h0M549.4 874.4h0M550.2 927.6h0M551.0 931.9h0M551.9 938.3h0M553.1 916.6h0M554.5 881.2h0M555.0 905.2h0M555.8 927.3h0M556.6 930.4h0M557.2 921.4h0M558.0 889.2h0M558.8 891.2h0M559.6 930.6h0M561.0 922.6h0M561.9 927.2h0M562.5 913.6h0M563.9 915.6h0M564.5 913.4h0M565.2 928.7h0M565.8 916.7h0M566.6 910.1h0M567.5 910.1h0M568.2 923.9h0M568.4 895.0h0M569.3 875.8h0M569.6 904.6h0M570.2 928.8h0M571.5 915.3h0M571.8 891.7h0M573.0 917.2h0M573.5 918.9h0M574.1 903.3h0M574.6 908.0h0M575.3 916.5h0M575.9 924.1h0M575.9 918.6h0M576.4 913.8h0M576.7 917.3h0M577.3 925.1h0M578.1 893.6h0M578.8 897.3h0M579.2 884.0h0M579.5 921.7h0M580.0 916.5h0M580.5 916.6h0M581.5 912.0h0M582.0 911.6h0M582.8 937.0h0M583.4 894.6h0M583.6 873.5h0M583.9 921.5h0M584.0 905.8h0M584.5 876.4h0M584.9 925.6h0M585.6 916.2h0M586.3 856.0h0M586.9 902.9h0M587.6 886.2h0M588.5 894.0h0M589.1 922.6h0M590.0 888.5h0M590.7 908.7h0M591.8 924.6h0M592.2 911.7h0M592.5 922.6h0M593.5 921.7h0M594.4 931.9h0M595.0 927.3h0M595.5 912.3h0M596.1 924.0h0M596.5 908.0h0M597.0 919.8h0M597.8 928.4h0M598.6 924.4h0M598.9 918.4h0M599.5 907.8h0M599.9 935.1h0M600.2 890.3h0M600.9 892.3h0M601.5 830.9h0M602.0 913.0h0M603.0 922.0h0M604.1 922.5h0M605.6 913.3h0M606.4 911.1h0M607.3 931.4h0M608.3 926.0h0M608.9 914.2h0M609.6 858.1h0M610.5 889.0h0M611.4 929.4h0M612.4 867.2h0M613.9 903.8h0M614.8 899.6h0M615.4 911.4h0M616.2 902.4h0M616.8 916.9h0M617.7 868.6h0M618.2 868.7h0M619.0 926.6h0M620.1 898.3h0M620.7 902.5h0M621.3 898.2h0M622.1 921.3h0M622.5 880.1h0M622.7 919.2h0M623.1 926.4h0M623.3 927.3h0M624.6 869.5h0M625.4 931.0h0M625.9 890.1h0M626.3 892.8h0M626.9 916.6h0M627.5 921.5h0M627.6 919.7h0M628.7 925.0h0M628.8 919.2h0M629.2 914.0h0M629.7 861.0h0M630.1 929.7h0M630.7 927.8h0M631.5 910.8h0M632.0 913.6h0M633.2 930.2h0M633.9 917.8h0M634.4 917.2h0M636.0 877.8h0M636.5 925.6h0M637.2 925.2h0M637.6 914.7h0M638.3 880.1h0M638.6 922.8h0M639.2 935.2h0M640.2 927.8h0M640.9 907.7h0M641.5 919.3h0M642.2 910.8h0M642.5 895.1h0M643.3 885.3h0M644.1 863.5h0M645.3 923.0h0M646.3 906.8h0M647.1 878.9h0M647.9 902.3h0M648.8 875.1h0M649.6 889.6h0M649.9 875.3h0M650.7 891.9h0M651.7 900.9h0M652.2 875.9h0M653.1 916.8h0M653.7 919.0h0M654.6 890.3h0M656.3 873.8h0M656.7 889.3h0M657.6 893.2h0M658.6 901.9h0M659.3 914.8h0M660.2 881.1h0M660.9 906.9h0M661.5 879.6h0M661.8 924.6h0M662.5 910.2h0M663.4 905.5h0M664.4 903.7h0M665.0 883.7h0M665.2 920.0h0M665.7 916.2h0M666.4 891.5h0M666.8 858.8h0M667.7 920.4h0M668.3 926.3h0M668.7 920.6h0M669.0 909.3h0M670.1 883.3h0M671.0 930.0h0M671.7 895.1h0M672.2 892.1h0M673.0 910.0h0M673.5 907.6h0M673.8 923.7h0M674.2 853.1h0M674.5 865.3h0M675.0 897.4h0M675.9 866.2h0M676.4 863.0h0M677.1 898.1h0M677.4 922.8h0M678.0 911.0h0M678.8 909.3h0M679.3 895.8h0M679.4 878.2h0M680.0 858.1h0M680.4 891.3h0M681.5 922.1h0M681.8 924.1h0M682.6 907.0h0M683.4 904.5h0M683.9 870.9h0M684.8 915.6h0M685.4 911.5h0M686.4 895.9h0M687.8 910.0h0M688.3 904.3h0M689.5 855.4h0M690.3 925.5h0M690.5 913.6h0M691.0 910.8h0M692.5 907.3h0M693.3 916.4h0M694.1 821.0h0M694.3 881.6h0M695.0 919.0h0M695.8 895.3h0M696.5 898.7h0M697.2 900.5h0M698.8 903.2h0M699.5 865.5h0M700.5 872.8h0M701.6 919.0h0M702.6 841.0h0M704.6 920.5h0M705.2 908.9h0M705.9 911.8h0M707.0 870.9h0M707.6 890.8h0M708.3 884.0h0M708.9 841.0h0M709.6 900.8h0M710.5 874.1h0M711.4 919.6h0M711.9 880.0h0M712.5 889.4h0M713.4 920.1h0M713.6 877.7h0M714.1 913.9h0M714.6 881.2h0M715.2 909.5h0M716.2 903.8h0M716.8 915.7h0M717.2 889.9h0M717.9 887.5h0M718.1 890.5h0M718.6 917.4h0M719.3 858.5h0M719.6 923.6h0M720.6 896.4h0M721.3 842.2h0M721.9 884.9h0M722.3 884.7h0M722.8 914.3h0M724.1 901.9h0M724.9 851.6h0M725.9 884.3h0M726.1 885.2h0M726.8 882.2h0M727.1 905.9h0M727.7 898.1h0M728.5 849.3h0M729.1 900.0h0M729.6 903.0h0M730.2 909.5h0M730.6 917.1h0M730.9 889.1h0M731.7 845.7h0M732.2 880.9h0M733.0 843.4h0M733.5 898.2h0M734.2 886.9h0M735.0 904.3h0M736.1 860.2h0M736.6 912.6h0M737.3 899.2h0M737.9 883.7h0M739.0 913.0h0M739.7 904.4h0M740.2 902.7h0M740.6 856.8h0M741.8 857.0h0M743.0 913.5h0M744.3 905.9h0M745.4 902.6h0M746.3 893.3h0M747.0 886.7h0M748.0 863.1h0M748.8 915.0h0M749.8 859.2h0M751.1 868.3h0M752.6 876.7h0M753.4 853.9h0M754.1 866.5h0M754.9 856.6h0M755.4 882.2h0M756.4 884.4h0M757.8 871.6h0M758.0 865.3h0M759.1 839.0h0M759.4 886.6h0M759.9 889.9h0M760.7 890.0h0M761.3 894.6h0M761.5 885.6h0M762.1 875.1h0M762.3 847.5h0M762.7 890.6h0M763.1 860.9h0M763.9 887.0h0M764.2 830.6h0M764.8 856.4h0M765.4 849.1h0M766.1 875.8h0M766.2 816.9h0M766.5 875.3h0M767.4 895.9h0M768.0 893.3h0M769.1 897.8h0M769.3 850.8h0M769.7 910.0h0M770.3 867.1h0M770.6 875.6h0M771.2 851.0h0M771.7 845.4h0M772.4 906.6h0M773.0 860.3h0M773.6 892.4h0M773.9 888.5h0M774.2 897.5h0M774.9 806.4h0M775.5 839.6h0M776.2 836.2h0M776.9 866.2h0M777.7 905.4h0M778.2 867.1h0M778.7 825.8h0M779.0 825.9h0M780.3 849.4h0M781.7 853.4h0M782.6 897.5h0M782.9 884.8h0M784.0 903.0h0M784.4 845.6h0M785.7 900.0h0M786.4 890.7h0M787.2 900.8h0M788.1 881.9h0M788.9 900.0h0M790.0 837.6h0M790.7 787.9h0M791.2 877.8h0M792.5 887.7h0M793.9 877.1h0M795.7 882.3h0M797.1 873.8h0M798.2 871.9h0M799.3 891.2h0M800.6 880.0h0M802.1 830.9h0M802.9 867.8h0M803.7 868.5h0M804.9 858.8h0M805.8 862.5h0M806.2 866.1h0M806.9 891.0h0M807.6 881.8h0M808.8 880.2h0M809.9 838.1h0M810.5 867.1h0M811.3 879.7h0M811.9 876.3h0M812.1 879.5h0M812.6 853.4h0M813.3 855.0h0M814.0 858.8h0M814.6 875.9h0M815.5 879.1h0M816.0 809.9h0M817.3 881.7h0M818.5 879.0h0M819.8 880.8h0M820.4 889.2h0M821.2 822.0h0M821.6 870.7h0M822.1 866.4h0M822.7 813.7h0M824.1 800.7h0M824.4 855.2h0M825.0 816.3h0M826.2 887.1h0M826.6 857.8h0M827.0 796.7h0M827.7 830.1h0M828.5 884.5h0M829.2 817.3h0M830.0 890.6h0M831.0 875.1h0M831.6 876.3h0M832.6 861.9h0M833.2 841.5h0M834.1 886.8h0M835.0 883.9h0M835.8 877.2h0M836.3 865.2h0M837.9 884.5h0M839.6 843.6h0M840.7 763.6h0M841.0 864.6h0M841.9 855.8h0M843.5 893.7h0M844.6 889.0h0M845.3 867.7h0M846.2 874.4h0M846.6 789.0h0M847.0 889.3h0M847.5 864.5h0M848.4 862.9h0M848.9 865.9h0M849.4 867.8h0M850.4 869.5h0M851.1 864.8h0M851.9 903.7h0M852.5 874.8h0M853.6 878.2h0M853.9 898.5h0M854.9 786.8h0M855.5 807.3h0M855.7 827.6h0M855.9 841.1h0M856.5 891.6h0M857.1 879.9h0M857.5 890.2h0M857.6 851.9h0M858.0 879.2h0M858.5 904.1h0M858.9 886.0h0M859.6 873.6h0M860.2 861.0h0M861.1 890.0h0M861.5 872.3h0M862.3 856.9h0M862.7 851.2h0M863.1 836.0h0M863.9 861.3h0M864.4 845.9h0M864.9 869.6h0M865.5 880.7h0M866.2 830.5h0M866.4 888.1h0M866.8 826.2h0M867.4 832.8h0M868.6 802.5h0M869.1 769.1h0M869.6 833.5h0M870.4 825.4h0M870.8 786.0h0M871.3 859.5h0M872.5 823.9h0M873.6 858.3h0M874.2 835.8h0M874.9 855.7h0M875.1 896.4h0M875.8 877.0h0M876.7 854.4h0M877.7 837.4h0M878.2 851.3h0M878.9 857.1h0M879.5 888.4h0M880.3 854.4h0M881.9 852.8h0M882.8 776.5h0M883.6 874.1h0M884.0 858.1h0M884.5 816.9h0M885.6 788.7h0M887.0 855.3h0M887.3 852.1h0M888.6 808.3h0M891.0 818.9h0M892.1 753.9h0M892.6 782.2h0M893.0 750.1h0M893.8 772.2h0M894.0 773.6h0M894.8 778.6h0M895.6 788.3h0M896.6 765.3h0M897.3 803.2h0M897.9 783.9h0M898.7 796.8h0M899.6 705.6h0M900.5 733.8h0M901.0 785.1h0M901.9 827.1h0M902.2 761.1h0M902.6 792.2h0M903.0 812.6h0M903.9 761.5h0M904.8 610.6h0M905.5 659.7h0M906.0 789.3h0M906.3 799.5h0M906.8 731.9h0M907.6 815.1h0M907.9 761.9h0M908.3 776.1h0M908.6 593.2h0M909.3 808.5h0M910.0 799.9h0M911.2 797.0h0M911.6 704.5h0M912.1 765.0h0M912.9 760.7h0M913.7 679.4h0M914.6 761.2h0M915.3 622.7h0M916.9 735.7h0M917.7 641.7h0M918.7 770.6h0M919.3 744.5h0M920.3 733.0h0M921.8 751.0h0M922.5 789.2h0M923.1 775.5h0M923.8 777.2h0M924.6 780.6h0M925.1 669.0h0M926.3 784.6h0M927.5 626.4h0M928.2 675.9h0M928.7 781.6h0M930.8 761.6h0M931.7 765.9h0M934.0 697.2h0M936.1 658.8h0M937.3 754.0h0M939.2 739.4h0M939.9 684.9h0M940.7 670.6h0M941.5 772.1h0M942.1 761.4h0M943.0 658.5h0M944.0 685.5h0M944.5 650.2h0M945.4 695.6h0M946.0 744.8h0M946.7 708.7h0M947.4 723.3h0M948.8 730.8h0M949.7 671.6h0M950.4 640.4h0M950.9 713.4h0M951.8 742.6h0M952.8 733.5h0M953.5 710.3h0M953.7 615.9h0M954.3 772.8h0M955.2 773.0h0M956.0 746.4h0M956.4 749.7h0M957.1 770.4h0M958.2 643.8h0M958.6 727.7h0M959.1 767.7h0M959.8 738.3h0M961.1 742.5h0M961.8 793.2h0M962.3 772.1h0M963.1 756.3h0M964.6 768.4h0M965.6 765.3h0M967.1 781.1h0M968.4 698.5h0M969.5 780.2h0M970.6 755.7h0M971.9 742.3h0M973.3 720.9h0M974.1 715.2h0M974.8 790.9h0M979.2 672.4h0M983.5 782.5h0M987.2 793.8h0M988.4 756.0h0M989.8 782.5h0M991.4 754.7h0M992.7 793.6h0M993.9 800.4h0M994.9 731.1h0M995.7 746.2h0M996.6 686.9h0M997.1 768.1h0M998.4 760.3h0M999.3 790.4h0M1000.0 785.1h0M1000.9 763.3h0M1001.8 680.2h0M1003.0 773.3h0M1003.8 802.5h0M1004.8 712.9h0M1005.3 783.9h0M1005.8 718.7h0M1006.9 712.3h0M1008.3 727.7h0M1009.8 768.1h0M1012.7 800.8h0M1015.0 765.9h0M1018.5 773.6h0M1020.8 717.8h0M1023.1 786.8h0M1025.9 762.0h0M1029.1 726.0h0M1033.7 774.2h0M1035.9 694.7h0M1037.8 770.7h0M1039.3 706.3h0M1040.7 705.2h0M1041.6 748.5h0M1042.1 767.3h0M1043.1 763.5h0M1044.1 790.7h0M1045.1 793.9h0M1046.1 794.0h0M1046.8 761.4h0M1047.4 787.1h0M1048.1 688.3h0M1048.8 766.4h0M1049.6 709.5h0M1050.9 759.0h0M1053.6 728.6h0M1054.0 745.6h0M1055.7 746.0h0M1056.4 751.9h0M1057.7 773.3h0M1059.7 760.4h0M1062.3 764.4h0M1064.6 743.4h0M1066.4 762.2h0M1068.1 718.7h0M1069.4 759.6h0M1071.7 705.5h0M1076.7 690.5h0M1078.9 792.8h0M1080.0 762.6h0M1082.2 753.4h0M1083.2 782.2h0M1085.6 805.2h0M1086.8 745.3h0M1087.6 741.0h0M1088.5 707.7h0M1089.7 733.9h0M1090.5 741.1h0M1091.7 779.0h0M1093.0 741.3h0M1093.7 771.5h0M1094.7 777.4h0M1095.2 751.7h0M1095.8 734.1h0M1097.2 785.5h0M1098.4 774.4h0M1099.5 751.0h0M1100.4 739.7h0M1102.0 712.7h0M1103.3 761.6h0M1105.1 752.2h0M1106.7 740.5h0M1108.2 802.8h0M1109.0 770.1h0M1111.0 677.5h0M1116.3 773.6h0M1118.0 762.0h0M1120.0 781.8h0M1123.2 726.8h0M1125.7 771.7h0M1127.9 801.4h0M1130.9 702.2h0M1131.7 742.5h0M1133.4 772.5h0M1135.1 717.5h0M1136.3 640.3h0M1138.3 766.6h0M1140.0 771.4h0M1141.3 758.3h0M1143.9 699.4h0M1144.3 722.1h0M1145.0 751.4h0M1146.6 762.0h0M1147.7 749.8h0M1150.2 667.3h0M1150.7 772.5h0M1152.5 751.7h0M1153.8 797.8h0M1155.3 796.8h0M1156.7 765.9h0M1157.3 787.3h0M1159.5 776.4h0M1162.6 757.3h0M1165.6 618.3h0M1170.7 674.1h0M1175.1 759.1h0M1175.9 707.7h0M1177.0 651.9h0M1178.0 770.9h0M1179.2 766.2h0M1181.2 795.1h0M1182.1 745.0h0M1182.7 742.8h0M1183.8 737.5h0M1184.2 758.7h0M1185.2 762.3h0M1186.5 677.5h0M1187.5 742.9h0M1189.4 645.5h0M1189.6 796.7h0M1190.0 720.4h0M1191.0 803.8h0M1192.1 752.7h0M1192.8 722.4h0M1193.9 695.2h0M1194.7 759.8h0M1195.6 645.7h0M1198.0 777.5h0M1199.4 721.5h0M1200.6 727.6h0M1201.9 735.4h0M1203.0 713.5h0M1204.3 751.4h0M1206.6 711.3h0M1208.1 705.1h0M1210.2 770.7h0M1211.0 756.9h0M1213.4 755.7h0M1216.9 720.8h0M1218.5 642.6h0M1220.7 768.7h0M1222.3 754.4h0M1223.0 721.3h0M1224.2 654.6h0M1226.3 628.0h0M1227.6 761.2h0M1228.2 761.9h0M1229.6 753.0h0M1230.5 652.2h0M1231.1 749.7h0M1232.5 744.9h0M1234.1 705.3h0M1234.8 669.1h0M1236.2 750.0h0M1236.6 602.3h0M1237.4 601.9h0M1238.1 700.8h0M1239.2 696.2h0M1239.9 694.1h0M1241.9 762.4h0M1243.4 745.7h0M1245.0 747.7h0M1246.3 701.7h0M1247.4 736.4h0M1248.8 707.7h0M1250.4 735.5h0M1250.8 676.4h0M1252.1 677.8h0M1253.9 666.1h0M1255.1 655.1h0M1257.0 761.8h0M1260.5 705.4h0M1264.1 658.3h0M1265.6 624.4h0M1267.5 710.5h0M1269.5 622.3h0M1271.0 758.4h0M1271.9 674.9h0M1273.9 652.2h0M1273.9 685.1h0M1274.8 728.7h0M1276.0 718.0h0M1277.0 745.4h0M1278.2 727.0h0M1279.6 651.0h0M1280.7 726.8h0M1281.5 733.1h0M1283.0 692.3h0M1284.1 758.5h0M1285.4 672.5h0M1287.2 762.9h0M1288.1 701.3h0M1289.1 777.6h0M1289.9 695.1h0M1291.7 743.8h0M1294.2 698.2h0M1296.4 714.4h0M1298.1 685.6h0M1299.4 747.1h0M1301.6 605.5h0M1304.2 655.3h0M1310.2 746.9h0M1314.2 747.4h0M1316.6 562.1h0M1317.6 751.9h0M1318.9 718.8h0M1320.0 716.4h0M1321.8 756.3h0M1322.5 755.9h0M1323.3 589.9h0M1324.8 707.0h0M1325.7 760.5h0M1326.3 648.5h0M1327.0 678.8h0M1328.6 732.3h0M1330.0 737.9h0M1331.4 720.8h0M1332.7 727.7h0M1333.7 738.5h0M1335.2 643.5h0M1338.0 744.9h0M1340.3 734.6h0M1342.1 715.6h0M1347.3 706.7h0M1349.4 774.2h0M1353.7 703.1h0M1358.6 752.4h0M1360.9 730.5h0M1365.7 676.5h0M1366.4 733.3h0M1367.6 639.0h0M1368.7 741.7h0M1370.0 558.5h0M1370.8 704.8h0M1373.3 755.0h0M1375.2 703.3h0M1377.1 696.3h0M1378.7 745.1h0M1381.4 657.6h0M1382.7 695.1h0M1385.6 739.9h0M1387.6 755.9h0M1394.2 550.4h0M1397.8 685.5h0M1402.6 718.2h0M1405.1 536.6h0M1407.7 756.8h0M1409.5 697.7h0M1410.3 692.7h0M1411.1 681.5h0M1413.2 669.3h0M1415.5 670.7h0M1416.6 755.9h0M1418.0 754.0h0M1419.5 711.3h0M1421.1 749.8h0M1422.3 745.3h0M1423.9 752.2h0M1426.1 757.7h0M1428.2 763.2h0M1430.6 711.4h0M1434.9 676.3h0M1439.6 704.5h0M1442.1 694.6h0M1449.6 703.4h0M1455.2 733.6h0M1457.1 634.4h0M1459.6 718.3h0M1462.9 717.4h0M1465.3 731.1h0M1467.3 691.1h0M1468.5 782.1h0M1469.9 786.0h0M1472.6 596.4h0M1474.9 678.5h0M1477.2 761.9h0M1479.6 634.8h0M1482.9 729.0h0M1486.3 616.9h0M1492.2 705.1h0M1499.8 578.6h0M1502.0 750.6h0M1504.7 685.1h0M1508.6 752.9h0M1510.0 722.1h0M1513.5 685.7h0M1515.0 696.0h0M1516.4 634.4h0M1518.0 743.0h0M1522.3 723.6h0M1524.6 750.4h0M1526.1 796.8h0M1528.4 724.3h0M1533.4 538.9h0M1540.0 654.9h0M1550.0 702.9h0M1552.7 680.4h0M1555.4 604.1h0M1556.4 763.8h0M1557.1 637.6h0M1560.4 610.5h0M1562.1 741.2h0M1563.7 529.6h0M1564.4 707.7h0M1565.4 744.1h0M1567.3 701.4h0M1569.1 720.2h0M1569.7 660.6h0M1572.3 721.9h0M1574.0 692.4h0M1576.6 704.9h0M1577.9 768.7h0M1580.6 607.2h0M1581.4 718.7h0M1584.6 688.2h0M1589.8 771.3h0M1592.4 630.8h0M1593.5 715.7h0M1595.7 664.7h0M1597.8 726.9h0M1598.6 715.4h0M1599.5 617.5h0M1600.4 663.6h0M1601.5 739.7h0M1602.6 719.0h0M1603.7 551.0h0M1604.7 674.8h0M1605.5 768.7h0M1606.3 698.3h0M1607.1 712.9h0M1608.1 758.9h0M1609.4 696.2h0M1609.7 629.6h0M1610.7 644.6h0M1612.0 741.3h0M1614.7 635.2h0M1616.2 654.6h0M1617.7 721.9h0M1619.7 651.0h0M1621.2 572.2h0M1623.0 727.8h0M1624.8 743.1h0M1626.5 688.8h0M1627.6 640.3h0M1629.1 653.1h0M1635.1 603.6h0M1637.6 733.3h0M1640.2 643.1h0M1642.1 557.7h0M1644.0 586.2h0M1645.1 680.7h0M1646.2 633.4h0M1647.9 649.9h0M1649.3 717.6h0M1650.5 644.1h0M1651.6 622.0h0M1653.3 556.6h0M1654.9 641.4h0M1655.9 498.0h0M1656.9 587.2h0M1658.6 606.1h0M1660.3 625.2h0M1661.4 574.5h0M1664.0 596.6h0M1665.9 613.5h0M1668.1 599.5h0M1671.4 655.6h0M1673.5 577.4h0M1674.8 552.3h0M1677.3 619.4h0M1682.0 568.0h0M1687.3 574.3h0M1689.5 482.9h0M1691.6 678.0h0M1694.5 674.0h0M1696.0 621.5h0M1698.4 634.1h0M1699.3 638.0h0M1701.1 512.7h0M1703.3 552.4h0M1706.8 494.0h0M1707.8 642.4h0M1709.0 583.3h0M1712.0 538.0h0M1713.1 511.5h0M1715.5 625.1h0M1718.5 540.5h0M1720.7 447.5h0M1723.8 581.4h0M1730.6 623.2h0M1733.1 630.5h0M1736.8 579.2h0M1738.2 586.0h0M1739.5 493.7h0M1741.1 601.3h0M1742.7 623.3h0M1744.1 650.4h0M1745.0 535.3h0M1746.5 516.4h0M1747.4 553.3h0M1749.6 507.1h0M1751.5 551.4h0M1752.6 544.2h0M1755.2 643.6h0M1759.9 501.5h0M1761.9 562.2h0M1765.2 540.4h0M1767.4 536.1h0M1769.0 633.3h0M1772.6 485.4h0M1776.8 582.3h0M1782.3 606.0h0M1784.2 615.2h0M1785.4 562.8h0M1786.1 525.9h0M1788.2 610.0h0M1789.4 614.9h0M1791.4 618.8h0M1793.8 577.7h0M1796.5 588.8h0M1798.6 612.9h0M1799.4 562.8h0M1801.8 512.8h0M1803.2 615.3h0M1807.9 517.3h0M1811.4 560.4h0M956.4 321.4h0M1331.2 419.5h0M1332.3 479.6h0M1063.4 507.5h0M1330.4 508.6h0M906.3 534.3h0M1050.4 541.4h0M1229.4 538.4h0M1804.2 272.3h0M1749.2 334.3h0M1698.3 375.5h0M1719.4 390.4h0M1628.1 427.4h0M1711.3 401.4h0M1759.2 419.5h0M1817.2 442.6h0M1520.0 510.3h0M775.0 694.0h0M702.0 765.5h0M1167.0 839.0h0M1146.0 825.0h0"/>
<path d="M209.0 923.4h0M224.0 919.3h0M251.8 919.3h0M263.8 914.1h0M266.2 919.3h0M269.9 892.1h0M273.1 889.9h0M278.3 918.0h0M284.8 896.4h0M287.2 904.5h0M293.3 925.3h0M296.5 932.9h0M299.9 925.0h0M304.2 898.0h0M308.8 892.5h0M312.8 876.2h0M315.4 914.4h0M319.6 891.6h0M322.0 923.0h0M325.2 905.5h0M329.7 908.6h0M334.1 935.3h0M337.3 942.1h0M339.7 905.1h0M341.7 922.6h0M346.6 919.6h0M349.8 922.4h0M351.9 928.9h0M355.5 922.8h0M357.4 935.9h0M361.9 932.0h0M366.5 947.6h0M375.1 922.3h0M377.8 911.0h0M384.0 937.8h0M387.2 911.0h0M390.4 916.9h0M393.8 947.0h0M398.0 945.9h0M400.8 939.6h0M405.5 914.2h0M408.9 947.9h0M419.1 939.2h0M425.0 945.9h0M428.4 928.8h0M435.2 952.6h0M437.2 930.5h0M439.3 942.7h0M441.6 911.9h0M442.5 926.6h0M443.3 911.5h0M444.8 881.8h0M445.3 944.8h0M446.5 949.2h0M447.4 917.9h0M448.5 934.3h0M449.1 924.4h0M450.1 879.1h0M451.2 942.1h0M452.3 919.2h0M453.3 935.0h0M454.6 897.4h0M456.4 946.9h0M458.0 913.3h0M459.5 927.9h0M461.3 890.1h0M462.2 928.0h0M463.4 890.1h0M465.4 899.3h0M466.6 899.9h0M468.2 925.8h0M469.6 897.3h0M471.6 941.5h0M471.9 945.4h0M473.1 905.9h0M473.9 898.2h0M474.5 915.0h0M475.9 926.9h0M476.5 921.2h0M477.0 908.8h0M477.7 919.7h0M478.4 943.5h0M478.9 903.1h0M479.8 899.4h0M480.3 917.5h0M480.5 890.7h0M480.9 915.1h0M481.7 916.3h0M482.4 935.7h0M483.2 945.7h0M483.7 898.5h0M484.6 924.7h0M485.1 926.2h0M485.5 915.3h0M486.3 941.2h0M487.1 926.2h0M487.9 914.5h0M488.3 946.9h0M488.4 902.9h0M489.0 935.2h0M489.8 936.0h0M490.4 949.1h0M490.8 928.1h0M491.4 928.0h0M492.2 931.0h0M493.6 911.8h0M494.2 940.3h0M494.8 916.8h0M495.1 905.3h0M495.4 907.8h0M496.2 947.2h0M496.4 913.0h0M496.8 936.0h0M497.4 929.4h0M497.9 944.5h0M498.4 885.1h0M498.9 870.4h0M499.7 906.5h0M500.9 895.8h0M501.2 907.6h0M501.7 927.5h0M502.2 931.6h0M503.0 938.2h0M503.6 929.6h0M504.0 922.6h0M505.1 893.5h0M505.5 866.3h0M506.3 900.7h0M507.7 904.2h0M508.9 925.2h0M509.7 913.6h0M510.4 912.1h0M511.1 923.6h0M511.7 890.8h0M512.8 909.4h0M513.6 867.7h0M514.8 941.2h0M515.3 940.4h0M516.5 924.1h0M517.6 916.2h0M517.9 920.7h0M518.3 890.6h0M518.6 935.8h0M519.4 928.4h0M520.6 940.5h0M521.2 922.4h0M521.7 915.2h0M522.1 915.0h0M523.2 933.2h0M523.6 916.2h0M524.2 927.8h0M524.7 926.1h0M525.2 884.4h0M526.5 916.0h0M527.1 936.0h0M527.4 918.5h0M528.0 792.4h0M528.4 922.3h0M528.6 915.7h0M528.9 920.0h0M529.7 937.5h0M530.1 901.2h0M530.4 931.2h0M530.9 910.4h0M531.5 908.8h0M531.8 934.1h0M532.2 922.3h0M533.3 923.4h0M533.7 928.3h0M534.1 898.9h0M534.7 923.5h0M535.0 934.4h0M535.4 893.8h0M536.1 925.1h0M536.2 933.6h0M536.8 912.3h0M537.5 895.1h0M538.3 934.2h0M538.9 915.3h0M539.4 929.4h0M539.7 901.2h0M540.2 934.2h0M541.3 936.9h0M542.0 909.2h0M542.3 903.8h0M543.0 885.8h0M543.7 935.5h0M544.0 916.5h0M544.5 938.2h0M545.2 911.4h0M545.7 890.5h0M546.6 916.6h0M546.9 916.7h0M547.1 890.1h0M547.6 913.4h0M548.2 885.5h0M549.0 904.9h0M549.6 934.6h0M550.6 885.2h0M551.2 910.3h0M552.5 928.6h0M553.4 906.2h0M554.5 931.9h0M555.4 898.4h0M555.9 913.4h0M556.6 886.3h0M557.3 906.5h0M558.1 858.5h0M559.0 908.3h0M559.8 923.2h0M561.1 903.5h0M561.9 918.6h0M562.5 923.9h0M563.9 911.8h0M564.5 920.1h0M565.3 912.0h0M566.0 909.2h0M567.1 911.0h0M567.5 891.6h0M568.3 904.1h0M568.4 928.7h0M569.4 936.0h0M570.0 905.4h0M570.5 905.3h0M571.4 931.0h0M571.9 914.6h0M573.2 904.3h0M573.5 921.9h0M574.1 916.6h0M574.8 923.2h0M575.6 916.8h0M575.8 917.3h0M576.2 875.5h0M576.4 905.7h0M576.8 911.5h0M577.7 917.2h0M578.2 921.3h0M578.8 931.0h0M579.1 911.1h0M579.6 939.4h0M580.2 914.7h0M580.6 914.9h0M581.8 928.4h0M582.1 928.3h0M583.0 927.9h0M583.4 919.5h0M583.6 925.0h0M583.9 923.5h0M584.2 919.6h0M584.6 930.9h0M585.2 925.7h0M585.7 877.7h0M586.3 895.6h0M587.1 923.3h0M587.9 926.6h0M588.7 917.6h0M589.2 909.5h0M590.2 931.3h0M590.9 927.8h0M591.7 921.1h0M592.2 917.8h0M592.9 905.3h0M593.6 899.9h0M594.5 913.6h0M595.1 931.4h0M595.6 928.2h0M596.1 936.2h0M596.6 914.5h0M597.2 898.8h0M597.8 923.1h0M598.5 926.2h0M599.1 911.7h0M599.5 919.9h0M599.8 857.3h0M600.2 919.2h0M601.0 905.0h0M601.5 889.4h0M602.0 928.5h0M603.0 919.5h0M604.4 902.7h0M605.7 923.7h0M606.5 910.3h0M607.5 893.3h0M608.2 931.1h0M608.9 916.4h0M609.7 908.1h0M610.9 889.5h0M611.6 908.5h0M612.9 900.8h0M614.1 914.4h0M614.9 924.9h0M615.8 897.2h0M616.3 862.2h0M616.8 925.8h0M617.9 922.6h0M618.3 895.6h0M619.0 868.9h0M620.1 912.7h0M620.7 889.3h0M621.5 909.0h0M622.2 903.4h0M622.5 900.4h0M622.9 899.6h0M623.1 901.8h0M623.8 919.1h0M624.6 900.4h0M625.6 918.0h0M626.1 876.1h0M626.5 888.6h0M627.1 919.0h0M627.5 935.3h0M627.8 914.6h0M628.7 928.5h0M628.9 913.0h0M629.3 882.4h0M629.7 928.3h0M630.2 931.7h0M630.7 910.8h0M631.5 896.5h0M632.4 920.4h0M633.4 908.2h0M634.1 918.8h0M634.7 908.2h0M636.1 875.9h0M636.5 914.9h0M637.3 904.8h0M638.0 904.8h0M638.3 922.9h0M638.7 899.3h0M639.3 927.8h0M640.3 922.0h0M640.9 925.0h0M641.7 887.4h0M642.1 899.0h0M642.9 918.2h0M643.4 917.5h0M644.4 921.3h0M645.4 883.7h0M646.3 929.0h0M647.2 910.2h0M648.0 911.8h0M649.0 883.5h0M649.6 845.0h0M650.1 913.0h0M650.8 899.2h0M651.7 897.2h0M652.4 922.6h0M653.2 890.9h0M654.0 903.1h0M655.2 930.8h0M656.4 919.1h0M656.9 892.5h0M657.7 908.8h0M658.6 923.8h0M659.5 889.3h0M660.2 887.2h0M660.9 886.0h0M661.4 821.3h0M662.0 916.1h0M662.6 898.2h0M663.6 916.3h0M664.4 919.3h0M664.9 870.7h0M665.5 892.4h0M665.9 899.1h0M666.4 925.2h0M667.3 905.1h0M667.9 858.0h0M668.4 908.7h0M668.7 926.1h0M669.1 924.3h0M670.2 920.5h0M671.2 910.2h0M672.1 866.8h0M672.4 905.0h0M673.2 911.8h0M673.5 883.9h0M673.9 899.8h0M674.2 908.4h0M674.6 886.7h0M675.2 906.7h0M676.1 906.9h0M676.5 914.9h0M677.0 925.6h0M677.4 910.2h0M678.0 895.9h0M678.9 917.0h0M679.3 851.3h0M679.6 862.2h0M679.9 814.7h0M680.5 916.1h0M681.4 837.4h0M681.9 870.9h0M682.8 882.4h0M683.3 908.7h0M684.1 879.0h0M684.7 903.6h0M685.7 909.3h0M686.4 915.0h0M688.0 890.0h0M688.5 822.4h0M689.7 874.6h0M690.4 909.8h0M690.7 905.8h0M691.2 913.9h0M692.6 913.9h0M693.4 904.8h0M694.2 902.9h0M694.6 881.6h0M695.1 828.8h0M695.7 911.3h0M696.8 800.6h0M697.5 905.2h0M698.8 878.8h0M699.6 907.4h0M700.5 888.3h0M701.7 902.8h0M703.0 916.0h0M704.7 893.1h0M705.3 899.9h0M706.0 886.9h0M707.1 907.7h0M707.8 903.3h0M708.5 884.0h0M708.9 918.8h0M709.9 879.7h0M710.5 889.8h0M711.5 862.0h0M712.0 903.9h0M712.6 896.9h0M713.4 861.7h0M713.7 891.0h0M714.2 870.3h0M714.7 849.9h0M715.4 878.3h0M716.2 832.0h0M716.9 905.2h0M717.4 886.8h0M717.8 921.5h0M718.2 891.4h0M718.8 918.9h0M719.3 896.2h0M719.9 740.4h0M720.6 862.1h0M721.5 902.7h0M722.1 898.5h0M722.3 907.1h0M723.3 912.0h0M724.1 866.9h0M724.9 893.1h0M726.0 901.7h0M726.3 850.7h0M726.8 884.7h0M727.0 909.3h0M728.0 894.0h0M728.6 907.0h0M729.2 823.6h0M729.8 868.1h0M730.4 909.2h0M730.6 916.5h0M731.0 886.2h0M731.8 885.6h0M732.2 874.0h0M733.2 852.3h0M733.5 896.5h0M734.3 901.8h0M735.4 896.3h0M736.2 888.8h0M736.7 879.0h0M737.5 898.5h0M738.3 898.5h0M739.3 883.0h0M739.7 844.3h0M740.2 902.0h0M741.1 848.8h0M742.1 898.0h0M743.0 857.9h0M744.4 878.9h0M745.6 900.8h0M746.5 823.5h0M747.2 850.2h0M748.0 890.3h0M749.0 888.5h0M750.0 865.7h0M751.0 827.5h0M752.8 892.8h0M753.5 903.5h0M754.0 900.6h0M754.9 825.5h0M755.4 794.3h0M756.5 857.5h0M757.8 867.7h0M758.0 888.3h0M759.2 863.8h0M759.5 873.3h0M760.1 902.2h0M760.8 873.7h0M761.4 886.9h0M761.5 884.3h0M762.0 859.6h0M762.4 862.1h0M762.8 807.1h0M763.3 864.6h0M764.0 876.5h0M764.3 871.6h0M764.8 902.5h0M765.3 882.4h0M766.1 899.7h0M766.5 901.3h0M766.7 885.4h0M767.4 854.2h0M768.0 892.6h0M769.3 865.1h0M769.4 883.4h0M769.9 895.8h0M770.5 905.9h0M770.8 893.5h0M771.1 888.9h0M771.7 883.8h0M772.5 879.3h0M773.0 864.1h0M773.7 899.0h0M774.0 879.7h0M774.2 893.2h0M775.1 887.4h0M775.5 827.8h0M776.3 899.6h0M776.8 897.4h0M777.7 857.7h0M778.2 863.5h0M778.7 877.7h0M779.2 827.4h0M780.5 880.2h0M781.8 872.1h0M782.5 873.7h0M783.1 833.9h0M784.0 865.8h0M784.6 885.6h0M785.8 868.5h0M786.5 828.4h0M787.5 851.9h0M788.3 901.5h0M789.1 867.7h0M789.9 772.9h0M790.8 901.3h0M791.3 872.9h0M792.4 881.7h0M794.2 898.3h0M795.8 870.4h0M797.1 824.3h0M798.4 868.8h0M799.4 883.0h0M800.8 897.6h0M802.4 875.8h0M803.1 862.7h0M803.7 779.6h0M805.2 814.3h0M805.8 848.8h0M806.5 876.9h0M807.0 900.0h0M807.7 881.2h0M809.4 876.9h0M810.0 893.0h0M810.6 870.0h0M811.4 844.7h0M812.0 857.0h0M812.2 832.7h0M812.6 839.8h0M813.5 847.1h0M814.3 884.5h0M814.6 875.0h0M815.5 833.3h0M816.6 834.2h0M817.7 860.8h0M819.0 850.7h0M820.2 866.3h0M820.6 858.9h0M821.2 874.1h0M821.7 878.8h0M822.3 894.1h0M822.9 851.0h0M824.1 893.3h0M824.4 891.9h0M825.0 844.6h0M826.2 837.4h0M826.5 869.5h0M827.1 886.3h0M828.0 898.6h0M828.5 886.5h0M829.3 863.1h0M830.0 878.4h0M830.9 884.1h0M831.8 865.6h0M832.6 867.6h0M833.4 870.0h0M834.1 846.3h0M835.2 832.5h0M835.8 885.0h0M836.3 842.3h0M838.3 866.5h0M839.7 896.2h0M840.8 889.8h0M841.4 890.3h0M841.8 858.7h0M843.6 868.4h0M844.9 893.0h0M845.2 871.8h0M846.2 884.4h0M846.6 781.5h0M847.0 894.5h0M847.6 881.7h0M848.5 823.4h0M848.9 899.0h0M849.3 894.3h0M850.5 854.7h0M851.1 836.6h0M852.0 881.2h0M852.6 865.6h0M853.5 874.0h0M854.1 853.8h0M854.9 888.5h0M855.5 883.1h0M855.7 837.0h0M856.1 890.0h0M856.4 880.1h0M857.2 873.8h0M857.5 847.3h0M857.8 874.2h0M858.1 892.4h0M858.6 844.6h0M859.2 899.3h0M859.9 844.9h0M860.3 876.7h0M861.1 867.0h0M861.6 840.2h0M862.4 868.2h0M862.9 859.5h0M863.2 841.9h0M863.9 888.5h0M864.6 764.2h0M865.0 864.3h0M865.5 842.3h0M866.1 725.9h0M866.4 822.4h0M866.9 874.5h0M868.1 816.2h0M868.6 860.6h0M869.1 892.2h0M869.7 883.5h0M870.4 794.6h0M870.7 840.9h0M871.5 818.8h0M872.7 866.3h0M873.6 840.4h0M874.5 863.4h0M874.9 871.2h0M875.1 880.1h0M876.0 860.7h0M876.9 857.5h0M877.9 851.0h0M878.3 869.2h0M879.3 830.8h0M879.8 868.7h0M880.8 786.9h0M882.1 869.4h0M882.8 834.4h0M883.6 817.6h0M884.2 810.8h0M885.0 808.0h0M886.1 787.1h0M887.1 864.4h0M887.7 682.4h0M888.8 815.4h0M891.2 843.3h0M892.2 751.6h0M892.8 841.0h0M893.2 852.0h0M893.9 777.4h0M894.1 737.9h0M895.0 811.5h0M895.7 814.4h0M896.9 770.9h0M897.3 815.5h0M898.1 800.2h0M898.7 749.6h0M899.8 715.5h0M900.6 708.9h0M901.1 818.6h0M901.8 749.3h0M902.3 811.1h0M902.7 787.0h0M903.2 777.2h0M904.1 754.6h0M905.0 785.4h0M905.6 742.0h0M906.0 660.0h0M906.5 810.7h0M906.8 587.7h0M907.7 757.6h0M907.9 768.3h0M908.5 690.6h0M908.6 813.4h0M909.3 742.0h0M910.1 576.1h0M911.1 810.1h0M911.5 786.4h0M912.1 769.5h0M912.8 780.2h0M913.9 783.8h0M914.8 688.2h0M915.6 698.4h0M916.9 784.7h0M917.8 774.1h0M918.7 797.4h0M919.7 704.3h0M920.4 717.0h0M921.9 770.0h0M922.5 726.1h0M923.2 752.0h0M924.2 674.4h0M924.7 805.8h0M925.4 654.0h0M926.5 801.4h0M927.8 731.8h0M928.3 583.9h0M928.8 790.6h0M931.0 786.2h0M933.0 659.7h0M934.9 560.6h0M936.3 716.1h0M937.3 740.9h0M939.5 768.8h0M940.2 770.0h0M941.0 627.6h0M941.6 614.9h0M942.7 654.8h0M942.9 748.7h0M944.2 729.5h0M944.7 551.5h0M945.5 565.9h0M946.2 702.4h0M946.7 704.5h0M947.4 693.7h0M949.0 622.0h0M950.0 738.6h0M950.7 701.8h0M951.1 758.4h0M951.9 726.4h0M952.9 748.8h0M953.6 606.8h0M953.8 738.2h0M954.3 691.0h0M955.2 686.0h0M956.0 768.1h0M956.5 691.2h0M957.4 708.0h0M958.3 733.1h0M958.6 782.9h0M959.3 731.8h0M960.2 760.4h0M961.1 704.3h0M961.9 739.3h0M962.5 718.9h0M963.1 730.2h0M964.5 753.9h0M965.9 736.3h0M967.2 736.4h0M968.5 789.8h0M969.5 782.4h0M971.2 652.8h0M972.0 738.9h0M973.3 761.3h0M974.3 753.4h0M974.9 771.3h0M979.5 776.2h0M984.1 803.5h0M987.3 708.7h0M988.4 729.5h0M990.1 742.0h0M991.5 732.2h0M992.7 736.6h0M994.0 769.6h0M995.1 720.5h0M995.9 711.9h0M996.6 714.1h0M997.7 705.3h0M998.4 784.2h0M999.3 765.4h0M1000.4 742.5h0M1001.1 727.3h0M1002.1 797.1h0M1003.1 758.1h0M1003.7 606.0h0M1004.8 786.2h0M1005.5 750.5h0M1006.1 665.7h0M1007.0 781.0h0M1008.3 667.7h0M1010.4 584.0h0M1012.9 750.4h0M1015.3 729.7h0M1019.0 663.0h0M1021.1 732.4h0M1023.2 779.5h0M1026.7 748.3h0M1031.3 754.2h0M1033.9 793.8h0M1036.0 730.7h0M1038.1 691.5h0M1039.6 675.7h0M1040.7 719.3h0M1041.8 705.1h0M1042.8 687.5h0M1043.1 769.5h0M1044.2 725.4h0M1045.0 748.1h0M1046.1 789.2h0M1047.0 754.3h0M1047.5 682.5h0M1048.2 698.4h0M1048.8 742.6h0M1050.2 619.8h0M1051.0 775.4h0M1053.6 774.3h0M1053.9 724.1h0M1055.9 767.1h0M1056.5 617.3h0M1058.4 758.1h0M1059.9 752.1h0M1062.7 781.1h0M1065.1 731.0h0M1066.8 728.1h0M1068.4 769.3h0M1069.7 755.0h0M1073.2 714.2h0M1076.7 764.2h0M1079.0 743.7h0M1080.2 754.3h0M1082.2 729.5h0M1083.6 804.3h0M1085.9 727.6h0M1087.1 619.4h0M1087.6 664.4h0M1088.6 640.6h0M1090.0 745.7h0M1090.6 705.8h0M1092.2 746.0h0M1093.3 694.6h0M1094.0 765.6h0M1094.6 713.6h0M1095.4 750.6h0M1096.2 725.3h0M1097.5 763.3h0M1098.7 758.6h0M1099.7 769.5h0M1100.4 762.1h0M1102.0 796.9h0M1104.0 761.2h0M1105.3 783.0h0M1106.9 690.7h0M1108.3 776.4h0M1109.5 711.4h0M1111.3 788.3h0M1116.6 737.6h0M1118.3 741.8h0M1121.3 760.1h0M1124.0 790.5h0M1126.2 770.9h0M1128.0 725.7h0M1131.1 643.9h0M1131.9 771.3h0M1134.5 681.7h0M1135.1 747.9h0M1136.8 754.6h0M1138.5 779.6h0M1140.3 786.4h0M1141.5 681.2h0M1143.9 756.5h0M1144.4 778.7h0M1145.1 798.8h0M1146.9 706.6h0M1148.3 733.1h0M1150.2 758.3h0M1150.8 769.8h0M1152.7 642.5h0M1154.0 758.7h0M1156.0 716.3h0M1156.8 751.4h0M1158.1 777.2h0M1160.0 745.6h0M1162.6 716.1h0M1166.1 714.8h0M1171.5 713.8h0M1175.2 754.1h0M1176.2 749.4h0M1177.1 729.1h0M1178.0 656.8h0M1179.7 752.0h0M1181.4 765.8h0M1182.1 759.5h0M1182.9 762.8h0M1183.8 752.6h0M1184.5 780.6h0M1185.5 750.6h0M1186.6 761.3h0M1187.4 757.4h0M1189.4 725.4h0M1189.5 683.9h0M1190.1 699.4h0M1191.3 732.3h0M1192.2 776.6h0M1193.0 760.2h0M1194.1 754.0h0M1195.0 748.3h0M1195.6 722.3h0M1198.2 740.0h0M1199.4 729.0h0M1200.7 710.5h0M1202.0 653.2h0M1203.1 635.6h0M1204.7 643.7h0M1206.7 788.0h0M1208.5 609.0h0M1210.3 760.4h0M1211.4 745.1h0M1214.0 772.3h0M1216.8 724.0h0M1218.9 704.5h0M1220.8 754.7h0M1222.4 733.9h0M1222.9 772.1h0M1224.4 683.1h0M1226.4 765.2h0M1227.8 697.1h0M1228.1 772.5h0M1230.0 726.7h0M1230.5 616.6h0M1231.1 749.2h0M1232.5 772.5h0M1234.2 721.0h0M1235.1 737.7h0M1236.1 753.5h0M1236.6 680.6h0M1237.7 715.6h0M1238.3 709.0h0M1239.3 688.9h0M1240.0 778.4h0M1241.9 784.8h0M1243.6 717.3h0M1245.5 586.4h0M1246.7 580.4h0M1248.0 686.1h0M1249.0 722.5h0M1250.5 767.8h0M1250.8 737.6h0M1253.1 707.0h0M1254.1 639.6h0M1255.0 744.2h0M1257.7 716.0h0M1261.4 745.3h0M1264.4 771.4h0M1266.6 702.3h0M1268.9 652.6h0M1269.6 769.9h0M1270.9 743.7h0M1272.1 754.5h0M1273.8 680.5h0M1274.3 704.4h0M1275.0 723.3h0M1276.0 743.7h0M1277.2 737.5h0M1278.6 685.7h0M1279.5 622.4h0M1280.7 670.9h0M1281.7 726.2h0M1283.1 605.3h0M1284.4 761.8h0M1286.0 693.8h0M1287.4 641.2h0M1288.4 750.0h0M1289.3 722.5h0M1290.0 717.3h0M1291.7 673.3h0M1294.7 683.1h0M1297.1 739.1h0M1298.1 722.9h0M1300.2 665.8h0M1302.1 675.9h0M1304.7 572.3h0M1311.1 698.8h0M1314.9 736.5h0M1316.9 691.2h0M1317.8 704.7h0M1319.1 735.7h0M1320.2 686.7h0M1322.0 762.9h0M1322.6 626.0h0M1324.1 708.0h0M1324.9 730.4h0M1325.6 729.9h0M1326.4 734.4h0M1327.0 660.7h0M1328.7 718.3h0M1330.1 735.7h0M1331.5 747.9h0M1332.9 699.0h0M1333.7 679.5h0M1335.4 690.0h0M1338.1 697.8h0M1341.0 710.9h0M1342.4 700.5h0M1347.4 660.8h0M1350.3 684.4h0M1353.8 758.2h0M1358.8 763.7h0M1362.6 699.8h0M1365.8 550.2h0M1367.0 647.3h0M1367.6 749.2h0M1368.8 720.9h0M1370.1 784.1h0M1371.3 686.8h0M1373.3 703.6h0M1375.7 741.8h0M1377.2 729.9h0M1379.4 778.8h0M1381.7 696.1h0M1383.2 737.7h0M1385.6 691.2h0M1388.1 698.7h0M1395.1 633.6h0M1399.9 693.0h0M1402.7 710.1h0M1406.1 773.3h0M1408.0 734.9h0M1409.5 716.4h0M1410.6 699.4h0M1411.1 735.4h0M1413.4 709.3h0M1415.7 753.1h0M1417.0 744.2h0M1418.3 640.3h0M1419.5 768.1h0M1421.2 736.4h0M1422.4 660.8h0M1424.1 676.0h0M1426.6 618.5h0M1429.0 678.3h0M1431.4 755.3h0M1436.6 642.5h0M1439.7 768.7h0M1444.5 660.3h0M1451.2 781.9h0M1455.7 705.2h0M1457.4 753.9h0M1459.6 600.0h0M1463.0 728.8h0M1465.8 743.3h0M1467.6 709.9h0M1469.0 717.8h0M1470.1 770.0h0M1472.8 749.3h0M1475.1 668.3h0M1477.7 644.8h0M1480.4 719.8h0M1483.0 775.9h0M1486.7 788.1h0M1495.6 785.9h0M1500.0 740.6h0M1502.9 765.0h0M1506.1 750.6h0M1509.0 771.1h0M1510.5 748.4h0M1513.6 754.5h0M1515.2 750.5h0M1517.1 720.0h0M1519.1 677.7h0M1523.1 580.3h0M1524.6 768.8h0M1526.8 703.1h0M1530.5 706.9h0M1533.7 741.4h0M1540.1 710.4h0M1550.1 787.5h0M1553.1 760.2h0M1556.0 713.4h0M1556.6 680.2h0M1557.8 688.9h0M1560.7 643.7h0M1562.3 778.4h0M1563.9 708.9h0M1564.5 690.7h0M1565.7 689.8h0M1567.8 777.1h0M1569.4 775.4h0M1569.8 739.1h0M1573.2 674.7h0M1574.3 747.7h0M1576.6 735.6h0M1578.0 718.1h0M1580.7 728.5h0M1581.6 726.8h0M1585.1 657.1h0M1590.6 699.9h0M1592.3 721.5h0M1594.2 713.8h0M1595.7 730.2h0M1598.0 569.1h0M1598.6 731.9h0M1599.6 679.1h0M1600.7 714.6h0M1601.8 619.6h0M1602.7 614.9h0M1604.0 714.6h0M1604.6 572.9h0M1605.8 665.2h0M1606.7 690.2h0M1607.0 730.7h0M1608.2 715.1h0M1609.4 605.1h0M1609.9 656.1h0M1610.9 697.6h0M1612.1 751.1h0M1614.9 751.2h0M1616.4 676.9h0M1618.1 645.6h0M1620.0 629.6h0M1621.2 689.0h0M1623.3 647.3h0M1625.3 651.4h0M1626.9 674.4h0M1628.0 674.8h0M1629.8 717.6h0M1635.2 692.7h0M1637.8 581.4h0M1640.4 745.6h0M1643.0 704.2h0M1644.1 468.2h0M1645.1 626.0h0M1646.3 680.0h0M1648.0 656.3h0M1649.4 560.5h0M1650.6 624.6h0M1651.7 647.4h0M1653.6 698.0h0M1655.5 551.5h0M1656.1 541.0h0M1657.3 637.9h0M1659.0 642.8h0M1660.4 619.0h0M1661.8 551.6h0M1664.1 532.1h0M1666.1 573.6h0M1671.0 638.5h0M1671.6 581.3h0M1673.7 586.6h0M1674.8 604.8h0M1679.2 623.7h0M1684.7 643.8h0M1687.6 610.9h0M1689.5 634.3h0M1692.2 666.2h0M1695.3 548.8h0M1696.8 511.0h0M1698.5 568.4h0M1699.4 650.1h0M1701.7 618.5h0M1703.5 500.9h0M1706.8 511.1h0M1707.8 635.6h0M1709.0 508.2h0M1712.0 623.2h0M1713.1 533.3h0M1716.5 586.5h0M1718.9 544.4h0M1720.7 539.1h0M1725.0 557.2h0M1730.6 568.9h0M1734.0 588.8h0M1737.2 609.3h0M1738.4 539.0h0M1740.3 606.1h0M1741.5 531.4h0M1742.9 567.1h0M1744.1 605.8h0M1745.4 605.4h0M1746.6 536.6h0M1747.8 515.6h0M1749.9 538.0h0M1752.1 615.5h0M1752.6 614.3h0M1755.5 603.3h0M1760.4 597.3h0M1762.0 600.7h0M1765.2 620.3h0M1767.4 492.0h0M1769.3 564.4h0M1773.1 517.7h0M1777.9 566.2h0M1783.4 474.7h0M1784.5 625.2h0M1785.5 554.1h0M1786.7 631.2h0M1788.4 588.1h0M1790.0 620.6h0M1791.5 538.8h0M1794.4 564.7h0M1796.9 505.5h0M1798.9 537.8h0M1800.1 556.1h0M1802.0 510.1h0M1803.9 558.4h0M1808.2 621.2h0M1815.3 636.6h0M952.3 382.4h0M1237.3 445.2h0M983.2 464.5h0M1179.3 508.6h0M1364.3 489.4h0M927.4 536.2h0M1332.3 526.5h0M1207.5 542.2h0M1788.4 297.5h0M1642.2 348.4h0M1408.4 378.4h0M1430.4 404.4h0M1646.3 423.3h0M1715.3 430.4h0M1748.1 427.4h0M1467.2 456.4h0M1550.4 497.3h0M836.0 666.0h0M686.0 768.5h0M1164.0 829.0h0"/>
<path d="M209.9 896.7h0M225.5 929.0h0M253.2 910.7h0M264.0 936.3h0M267.6 924.4h0M271.8 930.2h0M273.7 917.8h0M278.7 891.5h0M285.3 912.4h0M288.7 931.9h0M293.7 872.0h0M297.7 907.5h0M300.2 912.6h0M304.5 884.7h0M309.3 911.8h0M313.1 930.0h0M316.0 920.6h0M320.2 936.7h0M323.3 926.8h0M326.4 918.2h0M330.2 929.5h0M334.7 942.6h0M337.6 883.2h0M340.5 938.1h0M342.6 910.5h0M346.7 882.7h0M350.4 889.7h0M352.2 923.9h0M355.7 923.3h0M358.4 890.9h0M362.8 937.0h0M366.8 933.9h0M375.9 925.6h0M379.1 944.1h0M384.6 932.8h0M387.9 901.4h0M390.7 925.6h0M394.7 916.3h0M398.2 926.2h0M401.5 934.8h0M405.9 947.3h0M410.4 921.9h0M419.4 930.0h0M426.2 938.6h0M431.3 881.7h0M436.8 920.3h0M437.4 897.0h0M439.6 947.1h0M441.6 927.4h0M442.5 931.7h0M443.6 908.9h0M444.9 944.8h0M445.9 944.5h0M446.8 926.5h0M447.4 945.5h0M448.6 927.9h0M449.3 923.7h0M450.3 914.9h0M451.2 924.7h0M452.3 931.1h0M453.4 936.9h0M454.9 917.6h0M457.0 942.0h0M458.2 935.9h0M460.0 934.9h0M461.3 942.2h0M462.4 936.7h0M463.7 939.2h0M465.5 898.3h0M466.5 946.5h0M468.3 905.5h0M470.1 932.7h0M471.6 931.6h0M472.3 876.6h0M473.2 929.7h0M473.9 934.4h0M474.7 939.6h0M475.9 906.3h0M476.6 949.0h0M477.4 926.6h0M477.9 887.3h0M478.4 902.9h0M478.8 941.3h0M480.0 887.0h0M480.3 920.1h0M480.6 926.5h0M481.0 934.4h0M481.8 930.8h0M482.4 909.7h0M483.2 931.1h0M483.7 913.1h0M484.8 936.2h0M485.0 938.5h0M485.6 917.7h0M486.2 924.0h0M487.3 910.9h0M488.1 917.5h0M488.3 913.9h0M488.5 921.2h0M489.2 918.6h0M489.8 919.4h0M490.6 885.0h0M491.0 931.2h0M491.6 920.1h0M492.2 939.3h0M493.7 920.6h0M494.3 924.9h0M494.8 937.4h0M495.2 932.1h0M495.7 894.7h0M496.2 942.2h0M496.5 945.1h0M496.8 920.7h0M497.4 916.1h0M497.9 904.0h0M498.7 918.9h0M499.0 918.6h0M499.8 941.1h0M501.0 904.0h0M501.4 917.0h0M501.8 932.9h0M502.2 933.7h0M503.1 923.3h0M503.6 942.1h0M504.1 917.6h0M505.1 896.6h0M505.9 930.9h0M506.3 936.8h0M507.7 902.5h0M508.9 906.4h0M509.7 942.6h0M510.4 921.6h0M511.1 931.3h0M511.8 923.4h0M512.7 898.0h0M513.7 896.4h0M514.7 922.5h0M515.5 920.1h0M516.8 934.4h0M517.6 938.7h0M518.0 899.5h0M518.4 928.3h0M519.0 897.0h0M519.4 885.4h0M520.5 935.7h0M521.1 928.5h0M521.8 914.9h0M522.6 909.8h0M523.3 931.5h0M523.8 830.7h0M524.5 938.4h0M524.8 907.4h0M525.4 925.0h0M526.5 929.0h0M527.1 929.7h0M527.6 889.9h0M528.1 925.0h0M528.4 921.5h0M528.8 894.4h0M529.1 925.2h0M529.9 912.0h0M530.1 917.3h0M530.5 868.1h0M530.9 856.1h0M531.8 919.4h0M531.9 892.2h0M532.1 923.8h0M533.2 906.7h0M533.6 932.0h0M534.2 904.7h0M534.8 926.1h0M535.3 920.4h0M535.6 896.2h0M536.1 911.3h0M536.3 875.5h0M537.0 913.0h0M537.4 929.2h0M538.3 936.8h0M538.8 899.8h0M539.4 921.3h0M539.9 927.5h0M540.3 920.6h0M541.3 930.1h0M541.9 876.9h0M542.5 939.2h0M543.4 900.4h0M543.9 906.8h0M544.0 887.8h0M544.8 832.8h0M545.2 923.6h0M545.8 939.9h0M546.7 905.5h0M547.0 917.0h0M547.2 893.5h0M547.7 919.0h0M548.5 926.3h0M549.2 917.4h0M549.6 903.2h0M550.9 927.2h0M551.2 909.9h0M552.9 890.4h0M553.5 898.0h0M554.7 912.1h0M555.5 932.4h0M556.2 877.6h0M556.7 904.4h0M557.3 925.8h0M558.1 918.2h0M559.2 931.4h0M559.8 894.8h0M561.2 912.9h0M562.1 907.6h0M562.7 937.2h0M564.1 884.3h0M564.9 926.0h0M565.3 923.7h0M566.3 915.9h0M567.2 887.7h0M567.8 893.3h0M568.2 912.7h0M568.4 888.9h0M569.4 923.2h0M570.1 877.1h0M570.6 879.2h0M571.6 887.2h0M571.8 898.3h0M573.2 919.5h0M573.6 914.0h0M574.4 921.8h0M575.1 934.3h0M575.6 909.4h0M576.0 921.9h0M576.2 905.5h0M576.4 880.6h0M576.9 888.9h0M577.8 927.7h0M578.3 915.4h0M578.7 924.4h0M579.2 887.1h0M579.8 922.6h0M580.4 928.8h0M580.8 931.7h0M581.8 910.1h0M582.2 919.0h0M583.1 897.3h0M583.3 911.3h0M583.7 928.2h0M583.9 920.9h0M584.4 917.2h0M584.4 921.8h0M585.2 902.4h0M585.7 927.1h0M586.3 929.3h0M587.1 882.5h0M587.8 887.9h0M588.9 925.4h0M589.3 860.4h0M590.2 918.7h0M590.9 923.5h0M591.9 923.9h0M592.1 903.3h0M593.0 918.5h0M593.9 900.1h0M594.5 918.8h0M595.1 898.5h0M595.6 899.5h0M596.1 890.1h0M596.7 922.9h0M597.4 928.9h0M598.2 912.7h0M598.7 907.9h0M599.2 894.9h0M599.4 925.2h0M599.8 926.7h0M600.3 902.4h0M601.1 934.2h0M601.8 916.4h0M602.0 923.6h0M603.1 909.9h0M604.7 924.7h0M605.7 920.3h0M606.6 932.6h0M607.6 869.8h0M608.2 886.7h0M609.1 879.1h0M609.7 924.5h0M611.0 901.6h0M611.9 924.8h0M613.3 898.3h0M614.1 926.4h0M615.0 903.8h0M615.8 910.8h0M616.4 874.9h0M617.0 924.1h0M617.9 900.4h0M618.3 904.7h0M619.7 908.4h0M620.2 931.0h0M620.7 896.0h0M621.5 923.7h0M622.2 902.7h0M622.4 925.7h0M623.0 928.6h0M623.2 932.2h0M624.1 903.0h0M624.8 895.9h0M625.8 913.8h0M626.0 922.7h0M626.5 874.8h0M627.1 909.5h0M627.7 897.7h0M628.0 906.4h0M628.7 909.3h0M629.0 931.0h0M629.3 922.5h0M629.8 927.9h0M630.3 921.3h0M630.8 914.7h0M631.5 929.3h0M632.7 888.9h0M633.6 890.1h0M634.1 907.4h0M635.6 903.5h0M636.1 892.0h0M636.8 905.5h0M637.2 879.9h0M637.9 877.1h0M638.3 914.2h0M638.9 910.2h0M639.6 912.5h0M640.3 916.6h0M641.4 879.9h0M641.8 897.4h0M642.1 926.7h0M642.8 885.6h0M643.4 921.9h0M644.5 931.5h0M645.5 894.5h0M646.4 885.1h0M647.2 921.7h0M648.1 855.5h0M649.0 878.7h0M649.8 920.7h0M650.1 888.6h0M651.0 905.9h0M651.9 894.7h0M652.5 915.3h0M653.4 909.2h0M654.1 887.2h0M655.2 915.5h0M656.6 886.6h0M657.1 916.4h0M657.7 891.1h0M658.8 927.4h0M659.7 913.5h0M660.2 888.3h0M660.9 907.0h0M661.7 914.9h0M662.0 877.2h0M662.6 923.1h0M663.7 831.4h0M664.6 879.7h0M665.0 888.5h0M665.6 917.1h0M665.9 903.4h0M666.5 874.5h0M667.3 922.3h0M667.9 890.0h0M668.4 913.9h0M668.8 927.4h0M669.2 873.7h0M670.2 919.2h0M671.3 900.1h0M672.0 895.3h0M672.4 916.3h0M673.2 850.2h0M673.7 920.9h0M673.9 916.5h0M674.2 861.1h0M674.5 902.6h0M675.4 894.0h0M676.1 868.0h0M676.6 921.1h0M677.1 903.6h0M677.5 914.6h0M678.3 912.5h0M678.9 913.2h0M679.4 907.4h0M679.6 895.6h0M680.0 921.4h0M680.5 922.3h0M681.4 868.8h0M682.1 910.4h0M683.0 854.6h0M683.5 913.3h0M684.2 883.9h0M684.9 912.1h0M686.1 882.3h0M686.6 903.9h0M688.1 832.2h0M688.9 860.8h0M689.9 919.8h0M690.4 879.5h0M690.8 926.9h0M691.5 830.3h0M692.7 897.0h0M693.5 900.5h0M694.1 898.2h0M694.6 890.0h0M695.2 918.1h0M695.8 914.3h0M696.8 903.5h0M697.9 890.0h0M698.9 854.1h0M699.7 901.2h0M700.8 855.6h0M702.0 899.5h0M703.6 926.8h0M704.9 881.8h0M705.4 922.6h0M706.1 911.3h0M707.4 914.5h0M707.8 868.7h0M708.5 896.6h0M709.4 910.4h0M710.2 891.6h0M710.6 914.8h0M711.4 869.1h0M712.1 919.3h0M712.7 908.2h0M713.3 873.1h0M713.9 873.9h0M714.2 888.1h0M714.8 848.8h0M715.6 900.5h0M716.2 911.8h0M716.9 884.2h0M717.4 906.8h0M717.9 886.5h0M718.1 897.4h0M718.9 920.4h0M719.2 918.8h0M720.1 912.6h0M720.8 870.6h0M721.5 881.6h0M722.2 892.9h0M722.4 864.1h0M723.3 901.6h0M724.3 858.2h0M725.3 909.3h0M726.0 882.4h0M726.3 860.9h0M726.8 914.2h0M727.6 901.4h0M728.0 901.7h0M728.6 873.7h0M729.2 887.7h0M729.7 873.8h0M730.4 883.1h0M730.8 897.7h0M731.1 829.6h0M731.8 909.2h0M732.7 918.6h0M733.2 850.9h0M733.7 908.1h0M734.4 882.8h0M735.7 863.4h0M736.2 861.2h0M736.9 915.0h0M737.6 899.3h0M738.8 888.4h0M739.3 834.8h0M739.8 859.1h0M740.4 845.1h0M741.4 890.5h0M742.4 888.0h0M743.2 880.0h0M744.6 870.9h0M745.7 891.3h0M746.6 891.9h0M747.4 878.6h0M748.3 901.1h0M749.1 898.8h0M750.0 837.4h0M751.4 856.3h0M752.7 892.1h0M753.7 902.8h0M754.4 913.5h0M754.9 757.6h0M755.6 865.9h0M756.5 905.0h0M757.8 849.1h0M758.7 910.1h0M759.2 897.2h0M759.4 902.9h0M760.2 879.3h0M760.9 870.3h0M761.5 892.2h0M761.7 851.7h0M762.0 870.4h0M762.3 907.1h0M763.0 874.9h0M763.5 876.9h0M764.0 883.7h0M764.5 869.9h0M765.0 901.5h0M765.3 885.3h0M766.2 903.5h0M766.4 905.2h0M767.0 840.3h0M767.4 846.2h0M768.3 806.1h0M769.2 910.1h0M769.5 893.2h0M769.9 848.6h0M770.5 867.6h0M770.8 895.7h0M771.2 883.8h0M771.6 882.2h0M772.5 886.2h0M773.4 894.4h0M773.6 840.4h0M774.0 896.7h0M774.4 864.9h0M775.0 880.3h0M775.5 783.5h0M776.5 855.9h0M776.9 875.0h0M777.7 860.8h0M778.1 865.2h0M778.7 806.6h0M779.2 889.2h0M781.0 881.9h0M782.0 890.2h0M782.6 846.5h0M783.3 892.7h0M784.1 890.3h0M784.6 885.2h0M786.0 859.1h0M786.6 890.9h0M787.6 871.9h0M788.3 859.3h0M789.2 891.7h0M790.2 853.9h0M790.8 872.3h0M791.3 856.1h0M792.8 807.3h0M794.4 868.3h0M795.8 898.2h0M797.2 895.0h0M798.7 896.7h0M799.3 795.4h0M800.9 888.4h0M802.6 862.9h0M803.2 890.6h0M803.9 907.6h0M805.4 857.1h0M805.9 877.7h0M806.4 849.3h0M807.0 869.1h0M808.0 884.2h0M809.4 857.5h0M810.0 876.7h0M810.8 865.5h0M811.5 866.7h0M812.0 884.8h0M812.1 872.7h0M812.8 836.1h0M813.6 862.6h0M814.4 873.7h0M814.8 868.0h0M815.7 886.1h0M816.9 894.7h0M817.9 871.7h0M819.0 768.2h0M820.3 856.9h0M820.8 851.6h0M821.3 887.9h0M821.7 881.4h0M822.3 831.8h0M823.1 882.5h0M824.0 855.8h0M824.4 875.6h0M825.2 859.2h0M826.2 851.6h0M826.7 861.8h0M827.0 895.1h0M827.9 877.4h0M828.5 799.1h0M829.5 852.1h0M830.4 768.8h0M830.9 863.0h0M832.0 875.0h0M832.8 871.5h0M833.6 862.4h0M834.1 896.1h0M835.2 877.8h0M835.9 820.7h0M836.7 875.9h0M838.4 886.6h0M840.0 820.6h0M840.7 892.7h0M841.4 865.3h0M842.3 830.0h0M843.6 852.2h0M844.9 864.5h0M845.4 887.1h0M846.2 819.7h0M846.6 838.9h0M847.1 843.9h0M847.6 706.9h0M848.6 889.6h0M848.9 867.1h0M849.6 837.8h0M850.7 891.7h0M851.4 886.9h0M852.1 890.1h0M853.1 847.7h0M853.6 852.5h0M854.3 840.6h0M854.9 861.7h0M855.4 820.9h0M855.7 808.6h0M856.0 775.2h0M856.6 830.2h0M857.3 859.0h0M857.5 892.8h0M857.7 865.9h0M858.1 855.9h0M858.6 800.3h0M859.1 898.2h0M860.1 872.8h0M860.6 845.2h0M861.3 841.4h0M862.1 875.8h0M862.5 893.7h0M862.8 864.7h0M863.2 844.1h0M864.0 821.0h0M864.6 890.7h0M865.0 846.4h0M865.6 832.8h0M866.4 842.2h0M866.5 886.7h0M867.4 846.8h0M868.1 833.0h0M868.6 821.0h0M869.0 812.1h0M869.7 889.1h0M870.4 814.4h0M870.8 859.7h0M871.5 832.9h0M872.7 870.3h0M873.8 816.5h0M874.5 842.0h0M874.9 878.7h0M875.2 853.6h0M876.1 862.2h0M877.0 828.6h0M878.1 846.8h0M878.5 855.1h0M879.3 850.5h0M879.8 869.4h0M880.9 887.2h0M882.2 778.4h0M883.2 767.1h0M883.6 869.9h0M884.1 783.1h0M885.3 827.3h0M886.3 852.6h0M887.2 820.4h0M887.7 796.4h0M889.3 797.7h0M891.4 823.5h0M892.2 750.0h0M892.7 842.2h0M893.2 801.4h0M894.1 805.7h0M894.5 652.8h0M895.2 774.7h0M896.0 748.5h0M897.0 807.4h0M897.5 616.5h0M898.1 811.8h0M898.9 666.8h0M899.8 755.2h0M900.7 829.8h0M901.1 797.7h0M901.8 642.8h0M902.4 708.6h0M902.7 780.6h0M903.3 753.5h0M904.2 716.6h0M905.2 769.9h0M905.6 719.4h0M906.2 717.6h0M906.6 805.9h0M906.9 796.6h0M907.8 732.0h0M908.0 798.4h0M908.5 810.0h0M908.5 777.5h0M909.4 759.4h0M910.3 787.2h0M911.1 608.1h0M911.5 782.6h0M912.3 802.9h0M912.9 657.1h0M914.1 653.2h0M914.9 731.2h0M915.6 695.0h0M917.0 791.3h0M917.7 744.8h0M918.8 803.4h0M919.7 770.6h0M920.5 770.6h0M921.9 697.2h0M922.8 592.7h0M923.2 622.8h0M924.2 720.9h0M924.9 734.3h0M925.4 782.6h0M926.6 725.3h0M927.8 747.8h0M928.2 765.8h0M929.4 732.1h0M931.3 763.2h0M933.1 682.8h0M935.2 700.6h0M936.3 703.4h0M937.7 643.4h0M939.5 745.3h0M940.4 722.9h0M941.0 716.1h0M941.8 725.8h0M942.8 696.2h0M943.3 713.1h0M944.4 775.5h0M944.8 681.0h0M945.5 773.4h0M946.3 767.6h0M946.9 735.9h0M947.9 748.4h0M949.5 765.5h0M950.1 728.0h0M950.7 600.1h0M951.1 687.2h0M952.1 780.1h0M953.3 655.2h0M953.6 723.9h0M953.9 774.0h0M954.4 739.5h0M955.3 746.9h0M956.2 649.7h0M956.8 739.0h0M957.6 708.8h0M958.2 789.8h0M958.7 711.7h0M959.4 732.0h0M960.3 787.1h0M961.3 783.9h0M962.0 673.1h0M962.6 780.8h0M963.2 718.5h0M964.7 704.5h0M966.6 751.4h0M967.4 703.9h0M968.7 728.5h0M969.8 698.7h0M971.3 706.7h0M972.3 695.2h0M973.5 658.6h0M974.4 627.1h0M975.1 643.9h0M980.3 753.7h0M984.6 675.9h0M987.5 630.1h0M988.6 765.1h0M990.0 578.4h0M991.6 714.4h0M993.2 671.0h0M994.1 755.2h0M995.5 781.4h0M995.9 749.8h0M996.7 720.0h0M997.9 778.4h0M998.7 767.4h0M999.2 593.9h0M1000.5 655.5h0M1001.3 733.0h0M1002.1 747.6h0M1003.1 723.9h0M1004.0 766.8h0M1004.9 758.1h0M1005.6 781.8h0M1006.2 777.2h0M1008.0 756.7h0M1008.6 664.1h0M1010.5 742.5h0M1013.9 733.4h0M1015.4 794.6h0M1019.0 728.2h0M1021.8 792.4h0M1023.4 798.1h0M1027.7 757.6h0M1031.6 663.1h0M1034.9 722.5h0M1036.0 688.1h0M1038.3 677.2h0M1040.3 762.3h0M1041.0 736.8h0M1041.8 797.0h0M1042.8 745.8h0M1043.5 796.3h0M1044.4 743.8h0M1045.0 776.4h0M1046.4 768.4h0M1047.2 795.8h0M1047.7 762.3h0M1048.2 713.6h0M1048.9 766.3h0M1050.2 767.0h0M1051.1 803.6h0M1053.8 781.3h0M1054.1 656.7h0M1056.2 638.9h0M1056.6 708.5h0M1058.7 758.2h0M1060.0 681.9h0M1062.9 804.0h0M1065.3 772.4h0M1067.2 690.9h0M1068.3 727.7h0M1070.2 751.3h0M1073.3 744.5h0M1077.0 689.4h0M1079.0 782.4h0M1080.7 748.5h0M1082.3 755.9h0M1083.6 735.1h0M1086.1 785.8h0M1087.0 685.3h0M1087.7 763.8h0M1088.6 804.9h0M1090.1 675.7h0M1090.8 649.3h0M1092.4 774.4h0M1093.5 728.5h0M1094.0 726.5h0M1094.8 764.2h0M1095.5 695.2h0M1096.3 681.1h0M1097.7 730.0h0M1098.6 636.1h0M1099.8 716.2h0M1100.7 770.6h0M1102.3 753.3h0M1104.3 760.5h0M1105.3 746.6h0M1106.9 731.1h0M1108.5 631.3h0M1109.7 770.6h0M1113.7 794.7h0M1116.8 730.4h0M1118.5 733.8h0M1121.8 773.1h0M1124.1 765.6h0M1126.5 666.7h0M1128.0 665.3h0M1131.3 800.6h0M1132.1 810.6h0M1134.5 717.2h0M1135.3 763.3h0M1137.2 745.4h0M1138.8 721.8h0M1141.1 734.6h0M1141.7 800.4h0M1144.0 810.0h0M1144.4 738.8h0M1145.2 807.0h0M1147.1 755.1h0M1148.3 685.3h0M1150.5 690.4h0M1150.9 758.9h0M1153.2 760.1h0M1154.1 729.4h0M1156.2 767.7h0M1156.8 710.6h0M1158.2 728.3h0M1160.4 778.4h0M1163.4 728.0h0M1166.9 745.6h0M1171.8 688.0h0M1175.2 730.6h0M1176.3 782.8h0M1177.3 795.3h0M1178.3 764.3h0M1179.7 702.3h0M1181.3 702.5h0M1182.1 756.2h0M1183.2 773.0h0M1183.9 763.0h0M1184.5 784.9h0M1185.7 717.8h0M1186.8 745.3h0M1187.6 757.2h0M1189.5 765.6h0M1189.7 755.8h0M1190.3 718.1h0M1191.3 721.7h0M1192.2 718.2h0M1193.2 721.2h0M1194.1 748.6h0M1195.2 761.4h0M1196.3 684.5h0M1198.3 644.3h0M1199.4 779.7h0M1200.8 756.0h0M1202.6 756.2h0M1203.4 785.2h0M1205.2 715.9h0M1206.9 766.4h0M1209.2 763.3h0M1210.5 691.2h0M1211.4 712.2h0M1214.3 694.9h0M1217.1 745.7h0M1219.3 763.4h0M1221.4 711.7h0M1222.5 788.0h0M1223.0 753.6h0M1224.6 767.7h0M1226.5 770.6h0M1227.8 708.6h0M1228.2 786.9h0M1230.1 691.1h0M1230.7 645.7h0M1231.2 729.9h0M1232.9 764.8h0M1234.2 623.3h0M1235.1 685.0h0M1236.1 704.5h0M1236.7 698.0h0M1237.7 768.1h0M1238.5 763.6h0M1239.4 679.6h0M1240.0 712.6h0M1241.9 700.7h0M1243.8 696.0h0M1245.5 723.8h0M1246.8 687.9h0M1248.1 740.6h0M1249.0 787.8h0M1250.5 726.2h0M1251.3 718.3h0M1253.2 567.4h0M1254.2 769.6h0M1255.4 674.9h0M1258.9 716.7h0M1261.8 675.8h0M1264.5 733.8h0M1266.6 743.1h0M1269.0 759.4h0M1269.7 664.8h0M1271.2 714.6h0M1272.4 677.4h0M1273.9 772.9h0M1274.5 703.6h0M1275.1 707.4h0M1276.2 733.8h0M1277.1 715.1h0M1279.2 712.5h0M1280.4 693.3h0M1280.7 742.4h0M1281.9 729.5h0M1283.6 669.4h0M1284.3 767.7h0M1286.5 686.0h0M1287.6 698.0h0M1288.5 766.4h0M1289.3 700.2h0M1290.7 645.0h0M1291.6 636.9h0M1295.1 670.1h0M1297.4 567.4h0M1298.8 765.7h0M1300.4 712.3h0M1302.5 695.2h0M1307.0 634.4h0M1311.5 554.6h0M1315.1 665.3h0M1316.8 678.2h0M1318.3 729.7h0M1319.3 553.3h0M1320.5 743.0h0M1322.2 665.7h0M1323.0 717.8h0M1324.1 723.6h0M1324.9 730.8h0M1325.6 742.8h0M1326.4 583.9h0M1328.3 710.7h0M1329.0 689.4h0M1330.2 683.6h0M1332.0 664.8h0M1333.5 598.5h0M1334.3 695.9h0M1335.3 716.1h0M1338.1 668.8h0M1341.0 754.9h0M1342.6 747.7h0M1347.9 678.7h0M1351.3 734.9h0M1356.0 706.5h0M1359.3 737.6h0M1363.0 566.4h0M1365.9 681.4h0M1367.1 768.8h0M1367.6 661.3h0M1369.1 688.3h0M1370.4 709.2h0M1371.8 760.6h0M1373.4 601.9h0M1376.3 676.0h0M1377.4 714.2h0M1379.7 682.5h0M1381.8 723.6h0M1383.4 652.4h0M1386.2 690.3h0M1388.4 754.2h0M1395.1 724.5h0M1401.0 706.6h0M1403.1 585.9h0M1406.6 751.4h0M1408.2 727.3h0M1409.5 713.2h0M1410.6 641.5h0M1412.2 654.2h0M1414.2 748.6h0M1415.9 715.9h0M1417.1 595.6h0M1418.4 702.3h0M1420.4 553.1h0M1421.2 620.4h0M1422.7 736.7h0M1424.6 713.5h0M1426.9 705.7h0M1429.1 787.1h0M1433.9 792.3h0M1436.5 762.4h0M1440.4 787.2h0M1445.1 770.3h0M1451.3 553.9h0M1456.2 693.5h0M1457.6 545.4h0M1459.7 736.0h0M1463.9 701.0h0M1465.8 685.0h0M1467.7 710.7h0M1469.4 696.4h0M1470.4 761.9h0M1473.4 593.6h0M1475.5 777.9h0M1478.0 774.3h0M1480.6 625.0h0M1484.2 736.7h0M1487.0 790.7h0M1496.3 692.1h0M1500.9 770.2h0M1503.4 629.4h0M1506.3 746.6h0M1509.2 716.8h0M1510.9 766.7h0M1514.0 660.9h0M1515.3 659.9h0M1517.2 782.8h0M1519.5 711.8h0M1523.4 691.9h0M1525.2 725.7h0M1526.8 801.3h0M1530.9 581.0h0M1534.2 700.5h0M1542.2 723.0h0M1550.7 726.6h0M1554.0 698.1h0M1555.9 731.3h0M1556.7 661.5h0M1558.0 687.4h0M1561.0 777.5h0M1562.5 732.4h0M1564.0 743.9h0M1564.5 695.1h0M1565.7 730.7h0M1568.0 683.2h0M1569.5 720.5h0M1570.3 694.8h0M1573.5 690.0h0M1574.5 713.2h0M1577.4 718.1h0M1578.2 748.3h0M1580.7 691.7h0M1582.2 649.9h0M1586.2 743.3h0M1590.6 742.3h0M1592.5 707.5h0M1595.4 761.6h0M1596.5 755.6h0M1598.2 602.5h0M1598.8 719.4h0M1600.1 584.9h0M1600.9 678.5h0M1601.9 706.1h0M1602.9 653.1h0M1604.0 754.5h0M1604.9 626.9h0M1605.9 698.7h0M1606.7 696.0h0M1607.5 700.1h0M1608.2 536.6h0M1609.4 681.8h0M1609.9 582.4h0M1611.0 697.8h0M1612.4 703.9h0M1615.0 616.8h0M1616.6 673.1h0M1618.2 705.4h0M1620.1 591.2h0M1621.3 678.6h0M1623.4 664.9h0M1625.5 758.4h0M1626.9 690.5h0M1628.3 628.3h0M1631.2 645.2h0M1636.6 522.2h0M1638.7 642.5h0M1640.8 635.9h0M1643.3 686.8h0M1644.3 671.6h0M1645.4 724.9h0M1647.3 609.6h0M1648.5 647.9h0M1650.0 577.9h0M1651.0 604.0h0M1651.9 595.5h0M1653.5 708.1h0M1655.4 537.7h0M1656.2 606.9h0M1657.8 563.3h0M1659.0 696.4h0M1660.8 598.0h0M1662.1 672.7h0M1664.6 685.1h0M1666.6 592.0h0M1670.9 653.3h0M1671.7 638.5h0M1674.1 634.3h0M1674.9 564.9h0M1679.9 645.0h0M1684.7 586.3h0M1687.9 471.7h0M1689.7 445.4h0M1692.7 559.6h0M1695.5 611.2h0M1696.8 588.9h0M1698.7 674.5h0M1700.0 637.4h0M1701.9 641.8h0M1703.7 633.9h0M1707.0 444.1h0M1707.9 577.5h0M1709.9 658.3h0M1712.5 649.1h0M1713.2 555.9h0M1716.5 619.5h0M1719.2 666.9h0M1721.2 642.8h0M1725.6 523.3h0M1731.0 633.4h0M1734.4 512.4h0M1737.2 543.6h0M1738.5 557.3h0M1740.3 574.1h0M1741.6 560.3h0M1743.0 596.8h0M1744.8 477.3h0M1745.6 537.5h0M1746.7 515.0h0M1748.4 587.1h0M1751.0 617.7h0M1752.2 475.4h0M1752.9 516.4h0M1755.7 642.5h0M1760.5 602.6h0M1763.5 588.3h0M1765.4 511.2h0M1767.9 609.1h0M1769.5 509.4h0M1773.4 635.7h0M1780.8 510.6h0M1783.6 495.7h0M1784.9 505.5h0M1785.6 594.0h0M1786.9 595.2h0M1788.6 561.9h0M1790.0 576.4h0M1792.1 572.3h0M1795.0 544.3h0M1797.0 634.6h0M1799.0 552.0h0M1800.5 559.1h0M1802.0 450.2h0M1804.2 591.1h0M1808.3 591.4h0M1815.8 524.7h0M1047.4 401.3h0M1282.2 445.2h0M1038.4 479.6h0M1230.2 492.4h0M1367.3 495.6h0M959.4 531.4h0M1370.5 532.4h0M1813.4 130.3h0M1819.3 306.4h0M1766.2 364.4h0M1643.3 386.3h0M1486.2 412.5h0M1647.6 423.6h0M1724.3 427.4h0M1751.1 434.4h0M1414.1 479.4h0M1592.1 458.5h0M772.5 727.0h0M681.5 779.0h0M1500.0 831.5h0"/>
<path d="M211.3 924.7h0M233.1 907.1h0M255.2 923.8h0M264.5 919.0h0M268.4 916.1h0M271.8 923.4h0M274.1 906.3h0M279.0 873.7h0M285.7 927.3h0M289.9 911.6h0M293.9 901.8h0M298.7 927.6h0M300.8 929.6h0M306.4 895.1h0M309.6 924.9h0M313.4 928.2h0M316.2 924.0h0M320.3 904.7h0M324.0 926.1h0M327.7 909.0h0M330.2 895.1h0M335.6 902.2h0M337.9 929.9h0M341.3 900.8h0M342.7 930.4h0M347.6 927.5h0M350.8 915.9h0M353.3 924.5h0M356.0 876.4h0M358.9 920.2h0M364.4 933.4h0M368.3 917.9h0M376.3 933.3h0M380.7 903.5h0M384.8 896.8h0M387.9 913.6h0M390.9 933.6h0M395.9 920.2h0M399.6 939.2h0M402.3 941.4h0M406.4 887.4h0M413.1 896.8h0M421.9 929.8h0M428.0 928.0h0M431.6 918.0h0M436.7 911.5h0M438.2 925.9h0M440.0 877.5h0M441.9 923.1h0M442.5 919.3h0M443.9 912.0h0M444.9 909.4h0M445.9 908.3h0M447.0 944.7h0M447.4 905.6h0M448.5 916.8h0M449.3 909.1h0M450.2 946.6h0M451.3 871.0h0M452.4 893.7h0M453.4 916.7h0M455.3 918.7h0M457.8 945.2h0M458.3 936.3h0M460.0 942.0h0M461.4 944.9h0M463.1 909.5h0M464.1 860.4h0M465.8 938.4h0M467.1 942.2h0M468.7 943.0h0M470.6 893.9h0M471.6 941.2h0M472.4 919.8h0M473.6 923.8h0M474.0 910.8h0M475.5 926.6h0M476.1 928.3h0M476.9 945.5h0M477.5 807.1h0M478.0 927.5h0M478.3 926.8h0M478.9 945.6h0M480.0 896.4h0M480.4 940.8h0M480.7 950.5h0M481.0 917.4h0M481.9 939.0h0M482.7 909.6h0M483.3 929.0h0M484.0 928.6h0M484.8 944.2h0M485.2 925.9h0M485.6 912.8h0M486.7 932.2h0M487.6 946.7h0M488.0 917.8h0M488.4 932.5h0M488.6 902.8h0M489.5 897.3h0M489.8 917.2h0M490.6 927.0h0M491.0 912.1h0M491.6 911.8h0M493.0 925.5h0M493.9 932.1h0M494.5 920.1h0M494.8 929.4h0M495.2 916.3h0M495.9 923.1h0M496.3 925.4h0M496.5 921.6h0M497.0 942.0h0M497.5 905.8h0M498.1 930.2h0M498.7 860.9h0M499.2 935.5h0M500.2 911.2h0M501.0 897.6h0M501.3 928.5h0M501.9 934.4h0M502.3 942.4h0M503.1 924.6h0M503.7 865.1h0M504.8 919.0h0M505.2 922.2h0M505.9 936.7h0M506.5 901.8h0M508.2 920.8h0M509.5 928.2h0M509.9 877.7h0M510.5 889.1h0M511.3 921.2h0M511.9 914.5h0M513.3 941.1h0M514.2 924.0h0M514.8 904.8h0M516.0 885.1h0M517.2 901.1h0M517.7 905.8h0M518.1 902.2h0M518.4 936.9h0M518.9 910.8h0M519.7 892.8h0M520.6 882.1h0M521.5 927.4h0M521.8 939.4h0M522.7 837.3h0M523.4 867.2h0M523.9 894.1h0M524.4 909.3h0M524.8 903.6h0M525.4 927.9h0M526.5 898.9h0M527.2 937.2h0M527.6 868.6h0M528.2 911.6h0M528.4 891.2h0M529.0 884.0h0M529.1 931.2h0M529.8 897.9h0M530.2 889.4h0M530.5 909.1h0M531.0 920.3h0M531.8 907.4h0M532.0 916.0h0M532.3 897.9h0M533.5 924.6h0M533.8 914.2h0M534.3 913.1h0M534.9 901.3h0M535.1 900.3h0M535.8 885.7h0M536.0 924.8h0M536.4 936.3h0M536.9 887.4h0M537.7 931.3h0M538.4 929.2h0M539.1 912.2h0M539.5 909.0h0M539.9 897.3h0M540.4 911.7h0M541.3 899.3h0M542.1 911.6h0M542.5 874.5h0M543.5 926.8h0M543.8 932.2h0M544.2 873.9h0M545.1 903.2h0M545.4 886.7h0M545.9 926.0h0M546.7 928.9h0M547.1 939.5h0M547.2 919.3h0M547.7 922.7h0M548.4 915.6h0M549.1 924.8h0M549.8 922.6h0M550.9 934.7h0M551.3 915.4h0M553.0 924.4h0M553.5 872.9h0M554.8 891.2h0M555.5 928.2h0M556.3 932.7h0M556.8 914.3h0M557.3 922.5h0M558.2 880.6h0M559.5 926.4h0M560.3 881.8h0M561.4 902.3h0M562.1 902.1h0M562.6 939.8h0M564.1 911.3h0M564.9 877.4h0M565.6 922.7h0M566.5 901.2h0M567.3 906.4h0M568.0 928.7h0M568.3 918.4h0M568.7 918.3h0M569.5 907.0h0M570.1 912.5h0M570.7 922.0h0M571.7 887.4h0M572.4 908.2h0M573.2 918.9h0M573.8 922.8h0M574.6 902.8h0M575.0 905.6h0M575.8 920.7h0M575.9 923.1h0M576.2 899.3h0M576.6 904.4h0M577.0 918.6h0M577.7 912.5h0M578.4 877.7h0M578.8 920.9h0M579.3 921.5h0M580.0 921.6h0M580.4 865.8h0M581.2 906.0h0M581.8 907.6h0M582.3 903.1h0M583.1 912.1h0M583.5 895.3h0M583.7 917.3h0M584.1 909.9h0M584.4 918.7h0M584.7 849.3h0M585.2 915.1h0M585.8 916.6h0M586.6 910.8h0M587.3 865.7h0M587.9 896.0h0M588.9 922.5h0M589.2 915.4h0M590.5 892.5h0M591.2 911.9h0M592.0 914.8h0M592.3 880.5h0M593.1 923.8h0M594.1 896.9h0M594.5 931.8h0M595.3 918.6h0M595.8 922.5h0M596.2 919.4h0M596.7 905.2h0M597.5 907.9h0M598.2 894.0h0M598.8 933.8h0M599.2 903.6h0M599.6 929.0h0M599.8 925.4h0M600.4 924.0h0M601.1 882.0h0M601.7 913.6h0M602.8 929.8h0M603.2 919.7h0M604.7 873.0h0M606.0 892.1h0M606.6 901.1h0M607.7 896.2h0M608.4 913.4h0M609.1 933.2h0M609.8 927.9h0M611.0 920.2h0M611.9 926.1h0M613.6 906.9h0M614.2 906.3h0M615.2 914.0h0M615.9 922.8h0M616.6 906.7h0M617.1 925.0h0M617.9 921.2h0M618.5 914.6h0M619.8 899.6h0M620.4 915.3h0M620.9 925.2h0M621.8 919.0h0M622.3 918.7h0M622.5 926.9h0M623.0 892.8h0M623.3 873.0h0M624.3 920.7h0M625.0 923.6h0M626.0 916.0h0M626.1 904.7h0M626.7 915.1h0M627.2 923.0h0M627.7 928.5h0M628.3 895.1h0M628.8 912.3h0M629.0 880.9h0M629.6 918.5h0M630.0 906.2h0M630.2 921.6h0M631.0 911.8h0M631.9 908.1h0M632.7 910.3h0M633.7 883.7h0M634.0 907.1h0M635.8 933.2h0M636.2 923.8h0M636.9 914.6h0M637.4 883.8h0M637.9 899.8h0M638.4 921.5h0M639.1 928.5h0M639.6 919.8h0M640.4 931.0h0M641.4 915.3h0M641.7 864.1h0M642.1 915.3h0M643.1 882.4h0M643.5 906.2h0M644.6 902.6h0M645.5 911.4h0M646.5 928.9h0M647.5 912.4h0M648.4 862.7h0M649.3 923.7h0M649.7 913.8h0M650.0 907.0h0M651.2 909.4h0M652.0 893.1h0M652.6 906.6h0M653.5 881.7h0M654.4 902.9h0M655.4 928.0h0M656.6 877.5h0M657.2 894.2h0M658.2 913.3h0M658.9 882.5h0M659.7 899.2h0M660.5 901.0h0M660.9 908.4h0M661.8 890.1h0M662.2 916.7h0M662.9 893.4h0M664.1 914.0h0M664.8 923.4h0M665.0 912.6h0M665.6 902.0h0M666.0 919.9h0M666.5 913.4h0M667.6 891.5h0M668.0 907.4h0M668.4 926.7h0M669.0 891.2h0M669.3 925.2h0M670.4 884.2h0M671.5 918.4h0M672.1 911.4h0M672.4 914.9h0M673.5 900.5h0M673.7 901.9h0M674.0 906.1h0M674.2 913.1h0M674.8 909.1h0M675.6 918.9h0M676.2 841.3h0M676.6 923.7h0M677.1 915.5h0M677.7 913.2h0M678.3 906.3h0M679.0 904.0h0M679.4 921.3h0M679.7 915.3h0M680.0 869.4h0M680.7 865.6h0M681.5 908.1h0M682.5 916.5h0M683.0 907.0h0M683.6 910.1h0M684.6 897.8h0M685.1 874.2h0M686.2 894.1h0M686.9 905.3h0M688.2 908.2h0M688.9 895.0h0M690.0 912.5h0M690.4 885.2h0M690.9 903.9h0M691.9 864.4h0M692.7 883.0h0M693.7 857.2h0M694.2 909.3h0M694.6 901.2h0M695.6 884.5h0M696.2 886.0h0M696.9 885.1h0M697.9 893.8h0M699.1 844.3h0M699.8 870.7h0M701.2 910.7h0M702.1 913.5h0M703.7 895.8h0M705.1 884.8h0M705.6 908.7h0M706.2 911.5h0M707.5 862.6h0M708.1 886.0h0M708.7 905.3h0M709.4 887.7h0M710.3 883.7h0M711.0 908.9h0M711.6 891.3h0M712.3 906.9h0M713.0 838.4h0M713.6 906.6h0M714.0 852.3h0M714.5 902.8h0M714.7 898.4h0M715.7 897.9h0M716.2 873.0h0M717.0 888.7h0M717.3 854.8h0M717.8 903.0h0M718.2 871.0h0M719.1 919.8h0M719.3 892.5h0M720.2 776.3h0M721.0 894.6h0M721.6 901.8h0M722.3 872.7h0M722.7 909.2h0M723.4 835.2h0M724.5 908.0h0M725.5 888.0h0M726.1 878.4h0M726.4 891.6h0M726.8 878.5h0M727.7 871.5h0M728.1 872.1h0M728.7 906.9h0M729.3 839.3h0M730.0 906.5h0M730.5 888.4h0M730.9 906.6h0M731.0 917.2h0M732.0 889.0h0M732.7 862.5h0M733.4 883.1h0M733.9 844.1h0M734.4 848.6h0M735.8 914.4h0M736.3 832.4h0M736.9 859.7h0M737.8 896.4h0M738.8 897.5h0M739.5 900.3h0M739.9 863.4h0M740.3 909.7h0M741.4 875.7h0M742.5 886.2h0M743.4 883.0h0M745.1 881.8h0M745.9 871.6h0M746.7 866.2h0M747.5 859.4h0M748.4 907.2h0M749.4 850.8h0M750.0 896.3h0M751.8 895.6h0M752.8 852.8h0M753.7 849.8h0M754.6 896.2h0M755.0 895.5h0M755.8 877.6h0M756.8 848.2h0M757.8 902.3h0M758.9 897.4h0M759.3 874.4h0M759.7 887.0h0M760.2 886.3h0M761.0 899.2h0M761.5 915.5h0M761.8 895.5h0M762.1 864.7h0M762.5 895.9h0M762.9 878.3h0M763.7 872.4h0M764.3 900.6h0M764.8 888.3h0M765.2 900.0h0M765.5 900.3h0M766.3 911.6h0M766.5 865.5h0M767.2 909.7h0M767.4 893.2h0M768.5 877.2h0M769.2 858.8h0M769.6 759.1h0M770.1 896.5h0M770.5 874.2h0M770.9 864.4h0M771.4 804.4h0M771.8 884.0h0M772.6 785.8h0M773.3 868.5h0M773.7 879.0h0M774.1 822.3h0M774.6 864.0h0M775.1 869.9h0M775.8 889.0h0M776.5 890.7h0M776.9 894.8h0M777.9 861.1h0M778.3 863.4h0M778.9 882.9h0M779.3 899.6h0M781.3 846.2h0M782.2 822.0h0M782.8 901.2h0M783.6 903.3h0M784.3 876.9h0M785.0 886.0h0M786.5 888.0h0M786.6 855.8h0M787.6 851.8h0M788.6 888.3h0M789.4 866.1h0M790.4 860.5h0M790.9 865.7h0M791.5 887.5h0M793.0 856.5h0M794.7 841.3h0M795.8 891.8h0M797.3 906.2h0M798.7 898.1h0M799.4 887.6h0M801.0 838.1h0M802.6 903.1h0M803.2 866.2h0M804.6 878.1h0M805.5 897.4h0M806.1 868.8h0M806.4 854.8h0M807.3 851.2h0M808.2 846.3h0M809.4 903.4h0M810.1 885.2h0M811.0 819.6h0M811.6 803.3h0M812.0 848.7h0M812.1 883.9h0M812.9 872.3h0M813.6 872.7h0M814.4 835.6h0M814.9 863.0h0M815.7 905.4h0M817.0 891.2h0M818.1 896.9h0M819.3 878.4h0M820.5 846.3h0M821.0 894.5h0M821.3 864.3h0M821.7 892.0h0M822.3 828.0h0M823.2 880.5h0M824.1 785.6h0M824.5 889.9h0M825.1 883.7h0M826.2 876.9h0M826.9 834.7h0M827.2 866.7h0M828.0 875.3h0M828.8 866.2h0M829.9 867.9h0M830.5 843.1h0M830.9 869.1h0M831.9 829.7h0M832.9 874.9h0M833.6 899.6h0M834.3 877.1h0M835.3 895.3h0M836.2 846.1h0M836.7 814.9h0M838.7 861.5h0M840.2 879.1h0M840.9 868.8h0M841.6 901.0h0M842.3 878.5h0M843.8 879.5h0M845.0 895.9h0M845.5 838.4h0M846.3 868.8h0M846.7 885.2h0M847.3 890.6h0M847.8 794.9h0M848.7 791.1h0M849.0 868.8h0M849.6 862.3h0M850.7 886.4h0M851.4 878.0h0M852.3 878.9h0M853.1 813.3h0M853.7 825.4h0M854.6 895.2h0M855.0 866.1h0M855.6 819.0h0M855.7 872.3h0M856.2 807.7h0M856.7 877.2h0M857.2 893.8h0M857.5 886.0h0M857.9 766.9h0M858.4 860.1h0M858.6 864.4h0M859.3 892.6h0M860.0 871.1h0M860.7 881.9h0M861.3 877.1h0M862.1 849.9h0M862.5 862.0h0M863.0 826.3h0M863.4 895.2h0M864.1 839.5h0M864.8 895.3h0M865.2 835.3h0M865.8 877.0h0M866.3 869.0h0M866.7 870.3h0M867.3 886.7h0M868.2 761.9h0M868.8 824.3h0M869.1 891.4h0M869.8 795.9h0M870.7 860.8h0M871.0 799.9h0M871.6 865.1h0M872.8 831.3h0M873.8 884.7h0M874.5 817.6h0M874.9 835.3h0M875.3 833.5h0M876.0 869.5h0M877.0 848.5h0M878.0 868.7h0M878.7 877.0h0M879.4 803.2h0M880.1 834.6h0M881.2 868.0h0M882.4 801.4h0M883.3 863.4h0M883.7 874.1h0M884.3 769.8h0M885.3 847.5h0M886.4 832.6h0M887.2 730.5h0M888.2 813.3h0M890.0 840.9h0M891.4 731.7h0M892.2 797.8h0M892.8 826.6h0M893.3 818.7h0M894.0 800.5h0M894.5 782.4h0M895.1 705.3h0M896.4 781.9h0M897.0 816.3h0M897.7 666.0h0M898.3 804.6h0M899.0 825.8h0M899.8 803.6h0M900.8 698.7h0M901.6 722.0h0M902.0 739.3h0M902.4 770.7h0M902.7 765.5h0M903.7 788.6h0M904.2 775.3h0M905.4 743.0h0M905.8 797.1h0M906.1 702.3h0M906.5 811.2h0M907.3 800.8h0M907.8 742.3h0M908.3 799.5h0M908.4 585.5h0M908.8 779.0h0M909.8 768.4h0M910.3 622.1h0M911.3 695.4h0M911.6 779.0h0M912.6 777.2h0M913.4 715.9h0M914.0 759.9h0M915.1 758.7h0M916.6 708.6h0M917.2 781.4h0M917.8 759.6h0M919.0 766.0h0M919.8 746.0h0M920.7 780.2h0M921.9 743.9h0M922.9 754.6h0M923.6 744.8h0M924.1 746.8h0M924.9 709.4h0M925.4 785.3h0M927.1 592.3h0M928.0 760.8h0M928.3 734.6h0M929.6 747.0h0M931.5 766.6h0M933.8 762.1h0M935.4 769.5h0M936.7 782.0h0M937.8 687.6h0M939.5 631.5h0M940.5 729.3h0M941.2 787.5h0M941.7 749.6h0M942.8 740.3h0M943.4 554.6h0M944.5 745.1h0M944.9 728.8h0M945.8 777.8h0M946.3 761.5h0M946.9 698.1h0M948.0 747.2h0M949.5 684.4h0M950.3 769.1h0M950.8 765.0h0M951.3 629.1h0M952.6 757.7h0M953.2 706.7h0M953.5 663.6h0M954.0 774.0h0M954.5 618.2h0M955.5 710.1h0M956.3 776.6h0M956.9 710.3h0M957.8 702.4h0M958.3 668.6h0M958.9 738.0h0M959.4 786.1h0M960.9 767.8h0M961.3 722.0h0M962.0 759.4h0M962.7 781.1h0M963.3 732.9h0M964.7 777.3h0M966.8 740.0h0M967.6 728.1h0M968.6 723.0h0M969.7 750.7h0M971.2 769.7h0M972.8 641.9h0M973.7 730.0h0M974.4 739.1h0M975.9 730.9h0M980.9 686.2h0M986.4 776.8h0M987.7 773.8h0M988.8 696.5h0M990.4 712.3h0M991.9 782.9h0M993.7 686.2h0M994.2 750.6h0M995.5 796.6h0M996.1 770.0h0M996.7 700.4h0M997.8 723.2h0M998.8 742.2h0M999.2 735.6h0M1000.7 786.1h0M1001.4 756.4h0M1002.5 691.6h0M1003.2 770.6h0M1004.3 703.1h0M1005.1 732.4h0M1005.6 741.6h0M1006.3 770.5h0M1008.0 749.8h0M1008.6 690.7h0M1010.7 730.3h0M1014.4 797.4h0M1016.8 713.4h0M1019.0 787.1h0M1022.4 660.5h0M1023.6 721.9h0M1027.7 715.3h0M1032.5 738.7h0M1035.6 790.3h0M1036.5 693.4h0M1038.2 797.7h0M1040.4 746.7h0M1041.2 758.7h0M1042.0 727.8h0M1043.0 744.6h0M1043.6 810.8h0M1044.4 746.6h0M1045.3 773.0h0M1046.4 735.5h0M1047.2 745.6h0M1047.8 730.8h0M1048.5 738.0h0M1049.1 783.5h0M1050.5 770.5h0M1051.7 795.3h0M1053.8 764.2h0M1054.5 679.1h0M1056.2 633.9h0M1056.7 646.2h0M1059.0 677.2h0M1060.1 699.5h0M1062.9 679.3h0M1065.4 671.5h0M1067.9 777.2h0M1068.8 781.2h0M1070.8 747.0h0M1073.6 752.7h0M1077.1 696.1h0M1079.2 763.9h0M1081.7 795.2h0M1082.3 699.6h0M1084.1 658.6h0M1086.3 770.9h0M1087.1 756.7h0M1087.9 759.0h0M1089.0 711.1h0M1090.2 784.2h0M1091.2 772.7h0M1092.4 754.8h0M1093.5 696.6h0M1094.0 782.9h0M1095.0 673.5h0M1095.6 627.5h0M1096.6 744.3h0M1097.7 763.8h0M1098.8 763.4h0M1099.8 724.3h0M1101.5 794.3h0M1102.3 731.3h0M1104.5 762.5h0M1105.7 705.6h0M1107.1 757.1h0M1108.7 729.8h0M1109.9 743.8h0M1114.1 805.3h0M1117.0 596.8h0M1119.0 727.7h0M1122.3 795.0h0M1124.2 748.9h0M1126.7 601.9h0M1129.2 772.3h0M1131.3 713.3h0M1132.4 746.1h0M1134.7 769.4h0M1135.8 762.0h0M1137.2 710.0h0M1138.9 714.4h0M1141.1 794.4h0M1142.2 770.1h0M1144.2 770.7h0M1144.6 734.9h0M1145.4 765.5h0M1147.0 749.3h0M1148.7 700.2h0M1150.6 740.0h0M1151.0 765.9h0M1153.4 746.6h0M1154.4 723.0h0M1156.3 735.4h0M1156.9 796.5h0M1158.3 721.1h0M1161.4 788.1h0M1163.8 782.3h0M1168.0 737.7h0M1172.2 759.7h0M1175.7 769.7h0M1176.3 761.6h0M1177.4 763.1h0M1178.7 661.1h0M1179.8 784.8h0M1181.8 741.1h0M1182.4 741.1h0M1183.2 701.5h0M1184.0 803.0h0M1184.5 765.2h0M1185.9 763.1h0M1187.0 681.6h0M1187.7 666.5h0M1189.5 678.5h0M1189.9 757.3h0M1190.6 732.2h0M1191.4 667.2h0M1192.3 682.6h0M1193.5 673.4h0M1194.3 729.7h0M1195.3 769.6h0M1196.6 748.1h0M1198.2 745.8h0M1199.4 776.1h0M1201.5 763.9h0M1202.6 777.7h0M1203.6 781.1h0M1205.3 755.3h0M1206.9 756.8h0M1209.8 713.4h0M1210.6 707.4h0M1211.8 750.2h0M1216.2 770.6h0M1217.5 755.9h0M1219.9 737.9h0M1221.7 772.9h0M1222.5 714.9h0M1223.3 776.6h0M1224.6 731.2h0M1226.6 757.2h0M1227.9 665.8h0M1228.9 785.0h0M1230.1 741.9h0M1230.7 685.4h0M1231.5 712.0h0M1233.1 697.8h0M1234.4 718.8h0M1235.4 722.6h0M1236.3 658.5h0M1237.0 762.2h0M1237.8 683.1h0M1238.7 714.4h0M1239.4 673.3h0M1240.9 758.8h0M1242.4 747.0h0M1244.0 637.1h0M1245.5 739.9h0M1247.2 672.0h0M1248.1 701.5h0M1249.1 553.7h0M1250.6 727.3h0M1251.3 730.2h0M1253.3 753.2h0M1254.5 698.4h0M1255.7 742.1h0M1258.8 621.4h0M1262.0 679.4h0M1264.6 612.5h0M1266.7 684.6h0M1269.1 715.6h0M1270.0 682.8h0M1271.3 759.4h0M1273.3 751.4h0M1274.0 668.9h0M1274.6 737.8h0M1275.8 697.0h0M1276.4 671.8h0M1277.4 672.2h0M1279.2 665.9h0M1280.4 679.0h0M1281.5 737.6h0M1282.1 712.5h0M1283.8 691.7h0M1284.7 754.3h0M1286.8 748.0h0M1287.6 727.8h0M1288.7 717.2h0M1289.8 689.2h0M1290.9 751.0h0M1292.2 684.7h0M1295.2 763.8h0M1297.5 750.3h0M1298.9 723.8h0M1300.6 683.6h0M1302.7 736.4h0M1307.1 685.7h0M1312.0 734.0h0M1315.7 752.6h0M1317.2 742.5h0M1318.2 751.2h0M1319.4 729.8h0M1320.6 723.6h0M1322.2 775.6h0M1322.9 741.9h0M1324.3 560.6h0M1325.4 668.7h0M1326.0 653.8h0M1326.4 741.6h0M1328.3 740.9h0M1329.1 589.5h0M1330.7 736.8h0M1332.0 724.7h0M1333.4 724.2h0M1334.5 700.9h0M1335.5 767.3h0M1338.3 715.9h0M1341.3 615.0h0M1342.6 684.6h0M1347.9 767.7h0M1352.0 697.0h0M1357.1 741.5h0M1359.5 728.2h0M1363.4 707.3h0M1366.1 701.5h0M1367.2 778.1h0M1367.9 713.3h0M1369.1 633.8h0M1370.6 597.1h0M1371.8 744.5h0M1374.4 735.9h0M1376.8 615.9h0M1377.6 601.4h0M1380.4 736.4h0M1382.4 622.7h0M1385.0 696.9h0M1386.8 562.6h0M1388.7 718.6h0M1395.2 703.7h0M1401.7 743.6h0M1403.2 780.2h0M1406.6 739.6h0M1408.4 670.2h0M1409.5 772.1h0M1410.7 691.3h0M1412.4 566.2h0M1414.6 768.1h0M1415.8 566.3h0M1417.7 768.2h0M1418.9 757.9h0M1420.4 632.0h0M1421.3 621.3h0M1422.7 697.3h0M1424.6 704.4h0M1426.8 692.8h0M1430.1 772.7h0M1434.4 680.2h0M1436.9 574.7h0M1440.7 706.2h0M1446.6 774.4h0M1453.1 740.8h0M1456.6 764.8h0M1458.4 654.4h0M1460.8 645.8h0M1464.2 676.1h0M1466.1 728.8h0M1467.7 526.4h0M1469.4 734.5h0M1470.4 518.4h0M1474.1 765.3h0M1476.1 556.8h0M1478.6 722.9h0M1481.1 702.9h0M1484.4 777.8h0M1487.0 751.7h0M1497.1 757.4h0M1501.0 755.6h0M1503.6 683.8h0M1507.3 650.7h0M1509.3 750.0h0M1511.9 706.6h0M1514.2 684.3h0M1515.9 787.2h0M1517.6 806.1h0M1519.8 773.4h0M1524.0 797.1h0M1525.6 603.6h0M1527.4 644.5h0M1532.8 657.8h0M1535.0 718.8h0M1544.7 803.3h0M1551.2 744.8h0M1554.2 764.1h0M1555.9 713.2h0M1556.9 690.4h0M1558.1 784.1h0M1561.4 730.7h0M1563.1 689.4h0M1564.2 684.5h0M1564.7 717.2h0M1565.8 777.4h0M1568.3 687.2h0M1569.7 758.7h0M1571.1 706.7h0M1573.7 753.1h0M1574.8 740.0h0M1577.4 690.5h0M1578.5 654.0h0M1580.7 750.1h0M1582.6 699.9h0M1588.1 732.0h0M1591.7 713.0h0M1592.5 724.1h0M1595.6 586.6h0M1597.1 680.7h0M1598.5 621.4h0M1598.9 677.3h0M1600.3 719.2h0M1600.9 671.1h0M1602.1 631.3h0M1603.1 763.4h0M1604.0 639.0h0M1604.9 720.3h0M1606.0 717.4h0M1607.0 751.2h0M1607.6 591.9h0M1608.2 647.9h0M1609.5 709.7h0M1610.7 682.9h0M1611.4 559.1h0M1612.9 705.8h0M1615.7 678.7h0M1616.9 547.2h0M1618.6 719.7h0M1620.2 620.6h0M1622.5 637.7h0M1624.1 706.0h0M1625.6 623.7h0M1627.0 622.9h0M1628.4 741.1h0M1631.8 584.4h0M1637.0 609.8h0M1638.9 711.4h0M1640.9 668.9h0M1643.6 642.9h0M1644.3 671.4h0M1645.4 696.7h0M1647.4 672.8h0M1648.7 642.6h0M1650.0 517.5h0M1651.0 640.0h0M1652.4 697.8h0M1653.9 493.2h0M1655.6 640.1h0M1656.5 567.4h0M1657.7 590.2h0M1659.5 622.1h0M1661.1 668.1h0M1662.2 567.1h0M1664.9 622.1h0M1666.6 584.3h0M1670.9 642.6h0M1672.5 691.7h0M1674.5 547.5h0M1675.2 557.3h0M1680.1 534.3h0M1685.2 629.1h0M1687.9 655.6h0M1691.0 687.1h0M1693.5 597.1h0M1695.8 629.5h0M1697.3 559.0h0M1699.1 570.7h0M1700.3 661.8h0M1703.0 608.1h0M1704.5 619.9h0M1707.0 609.0h0M1708.4 519.2h0M1709.9 527.5h0M1712.4 622.7h0M1713.4 577.3h0M1717.1 575.0h0M1719.4 606.8h0M1721.3 628.7h0M1725.8 594.7h0M1731.2 590.6h0M1734.6 648.5h0M1737.3 601.6h0M1738.8 519.8h0M1740.5 505.2h0M1741.9 648.4h0M1743.1 499.7h0M1744.9 607.7h0M1745.8 547.0h0M1746.7 641.9h0M1749.0 516.5h0M1751.3 603.4h0M1752.3 605.5h0M1753.3 614.0h0M1758.2 479.1h0M1760.7 609.2h0M1764.1 472.9h0M1765.4 549.6h0M1767.9 504.1h0M1769.6 552.1h0M1773.8 619.7h0M1780.9 516.2h0M1783.8 629.7h0M1784.9 546.4h0M1785.6 628.4h0M1787.1 578.6h0M1788.9 574.7h0M1790.1 582.3h0M1793.2 646.8h0M1795.0 565.4h0M1797.1 543.6h0M1799.0 643.2h0M1800.8 602.7h0M1802.3 575.2h0M1804.3 604.1h0M1809.2 570.1h0M1819.9 562.3h0M1123.2 390.2h0M1284.4 449.6h0M1141.1 471.5h0M1287.4 499.4h0M1384.3 486.4h0M972.4 532.4h0M1385.4 542.2h0M1797.1 145.5h0M1614.3 310.5h0M1788.4 367.3h0M1770.0 386.3h0M1512.2 434.4h0M1673.3 423.3h0M1768.1 399.5h0M1769.2 430.4h0M1439.3 476.4h0M1615.1 468.3h0M784.0 724.5h0M740.0 767.5h0M1579.0 818.5h0"/>
</g>
</g>
<!-- logo -->
<g>
<rect x="1686" y="832" width="196" height="194" fill="#fff"/>
<text x="1697.3" y="889" font-size="46" font-weight="bold" fill="#1b4fa3" stroke="#1b4fa3" stroke-width="1.1" textLength="109.6" lengthAdjust="spacingAndGlyphs">Jerry</text>
<text x="1696.3" y="931.7" font-size="45.5" font-weight="bold" fill="#1a93d6" stroke="#1a93d6" stroke-width="1.1" textLength="171.5" lengthAdjust="spacingAndGlyphs">Charlton</text>
<text x="1696.6" y="961.3" font-size="32" font-weight="bold" fill="#1a58b0" stroke="#1a58b0" stroke-width="0.6" textLength="169.6" lengthAdjust="spacingAndGlyphs">Real Estate</text>
<text x="1695.6" y="996.1" font-size="28" font-weight="bold" fill="#000" stroke="#000" stroke-width="0.5" textLength="177" lengthAdjust="spacingAndGlyphs">403 831 0842</text>
<path d="M1739.2 904.6L1763.3 889.2L1788.1 905" stroke="#9db6db" stroke-width="2.6" fill="none"/><path d="M1739.2 904.6L1763.3 889.2L1788.1 905" stroke="#dfe8f5" stroke-width="0.8" fill="none"/>
<g fill="#8fa8cb"><rect x="1760.2" y="899.6" width="3" height="3"/><rect x="1764.2" y="899.6" width="3" height="3"/><rect x="1760.2" y="903.6" width="3" height="3"/><rect x="1764.2" y="903.6" width="3" height="3"/></g>
</g>
<g stroke="#000" stroke-width="1.33" fill="none">
<rect x="111.5" y="70.5" width="1791.0" height="966.0"/>
<path d="M111.5 1036.50h-6"/>
<path d="M111.5 961.50h-6"/>
<path d="M111.5 887.50h-6"/>
<path d="M111.5 813.50h-6"/>
<path d="M111.5 739.50h-6"/>
<path d="M111.5 664.50h-6"/>
<path d="M111.5 590.50h-6"/>
<path d="M111.5 516.50h-6"/>
<path d="M111.5 442.50h-6"/>
<path d="M111.5 367.50h-6"/>
<path d="M111.5 293.50h-6"/>
<path d="M111.5 219.50h-6"/>
<path d="M111.5 145.50h-6"/>
<path d="M111.5 70.50h-6"/>
<path d="M237.50 1036.5v6"/>
<path d="M424.50 1036.5v6"/>
<path d="M610.50 1036.5v6"/>
<path d="M796.50 1036.5v6"/>
<path d="M983.50 1036.5v6"/>
<path d="M1170.50 1036.5v6"/>
<path d="M1356.50 1036.5v6"/>
<path d="M1542.50 1036.5v6"/>
<path d="M1729.50 1036.5v6"/>
</g>
<g font-size="15.4" fill="#222">
<text x="97.6" y="1042.0" text-anchor="end">$0</text>
<text x="97.6" y="967.0" text-anchor="end">$100,000</text>
<text x="97.6" y="893.0" text-anchor="end">$200,000</text>
<text x="97.6" y="819.0" text-anchor="end">$300,000</text>
<text x="97.6" y="745.0" text-anchor="end">$400,000</text>
<text x="97.6" y="670.0" text-anchor="end">$500,000</text>
<text x="97.6" y="596.0" text-anchor="end">$600,000</text>
<text x="97.6" y="522.0" text-anchor="end">$700,000</text>
<text x="97.6" y="448.0" text-anchor="end">$800,000</text>
<text x="97.6" y="373.0" text-anchor="end">$900,000</text>
<text x="97.6" y="299.0" text-anchor="end">$1,000,000</text>
<text x="97.6" y="225.0" text-anchor="end">$1,100,000</text>
<text x="97.6" y="151.0" text-anchor="end">$1,200,000</text>
<text x="97.6" y="76.0" text-anchor="end">$1,300,000</text>
<text x="237.2" y="1059" text-anchor="middle" textLength="31.5" lengthAdjust="spacingAndGlyphs">1992</text>
<text x="423.7" y="1059" text-anchor="middle" textLength="31.5" lengthAdjust="spacingAndGlyphs">1996</text>
<text x="610.5" y="1059" text-anchor="middle" textLength="34.5" lengthAdjust="spacingAndGlyphs">2000</text>
<text x="797.0" y="1059" text-anchor="middle" textLength="34.5" lengthAdjust="spacingAndGlyphs">2004</text>
<text x="983.5" y="1059" text-anchor="middle" textLength="34.5" lengthAdjust="spacingAndGlyphs">2008</text>
<text x="1170.0" y="1059" text-anchor="middle" textLength="34.5" lengthAdjust="spacingAndGlyphs">2012</text>
<text x="1356.5" y="1059" text-anchor="middle" textLength="34.5" lengthAdjust="spacingAndGlyphs">2016</text>
<text x="1543.0" y="1059" text-anchor="middle" textLength="34.5" lengthAdjust="spacingAndGlyphs">2020</text>
<text x="1729.5" y="1059" text-anchor="middle" textLength="34.5" lengthAdjust="spacingAndGlyphs">2024</text>
</g>
<text x="1006.6" y="36.9" font-size="24.3" font-weight="bold" fill="#0d5a90" text-anchor="middle" textLength="556.7" lengthAdjust="spacingAndGlyphs">Hidden Valley – Detached Home Sales History</text>
<text x="1884.5" y="47.9" font-size="13.3" font-style="italic" fill="#4d4d4d" text-anchor="end" textLength="164" lengthAdjust="spacingAndGlyphs">Over 1.5 Million Excluded</text>
<text transform="translate(150.3 553.6) rotate(-90)" font-size="18.3" font-weight="bold" fill="#555" stroke="#555" stroke-width="0.3" textLength="96.3" lengthAdjust="spacingAndGlyphs">Sold Price</text>
<text x="241.6" y="1016.9" font-size="18.3" font-weight="bold" fill="#555" stroke="#555" stroke-width="0.3" textLength="155.2" lengthAdjust="spacingAndGlyphs">Date Home Sold</text>
<text x="893.9" y="1011.9" font-size="15" fill="#2270a4" textLength="709.1" lengthAdjust="spacingAndGlyphs">Jerry Charlton - Exp Realty - 403 831 0842 - Jerry@JerryCharlton.com - www.JerryCharlton.com</text>
</svg>
</body></html>
